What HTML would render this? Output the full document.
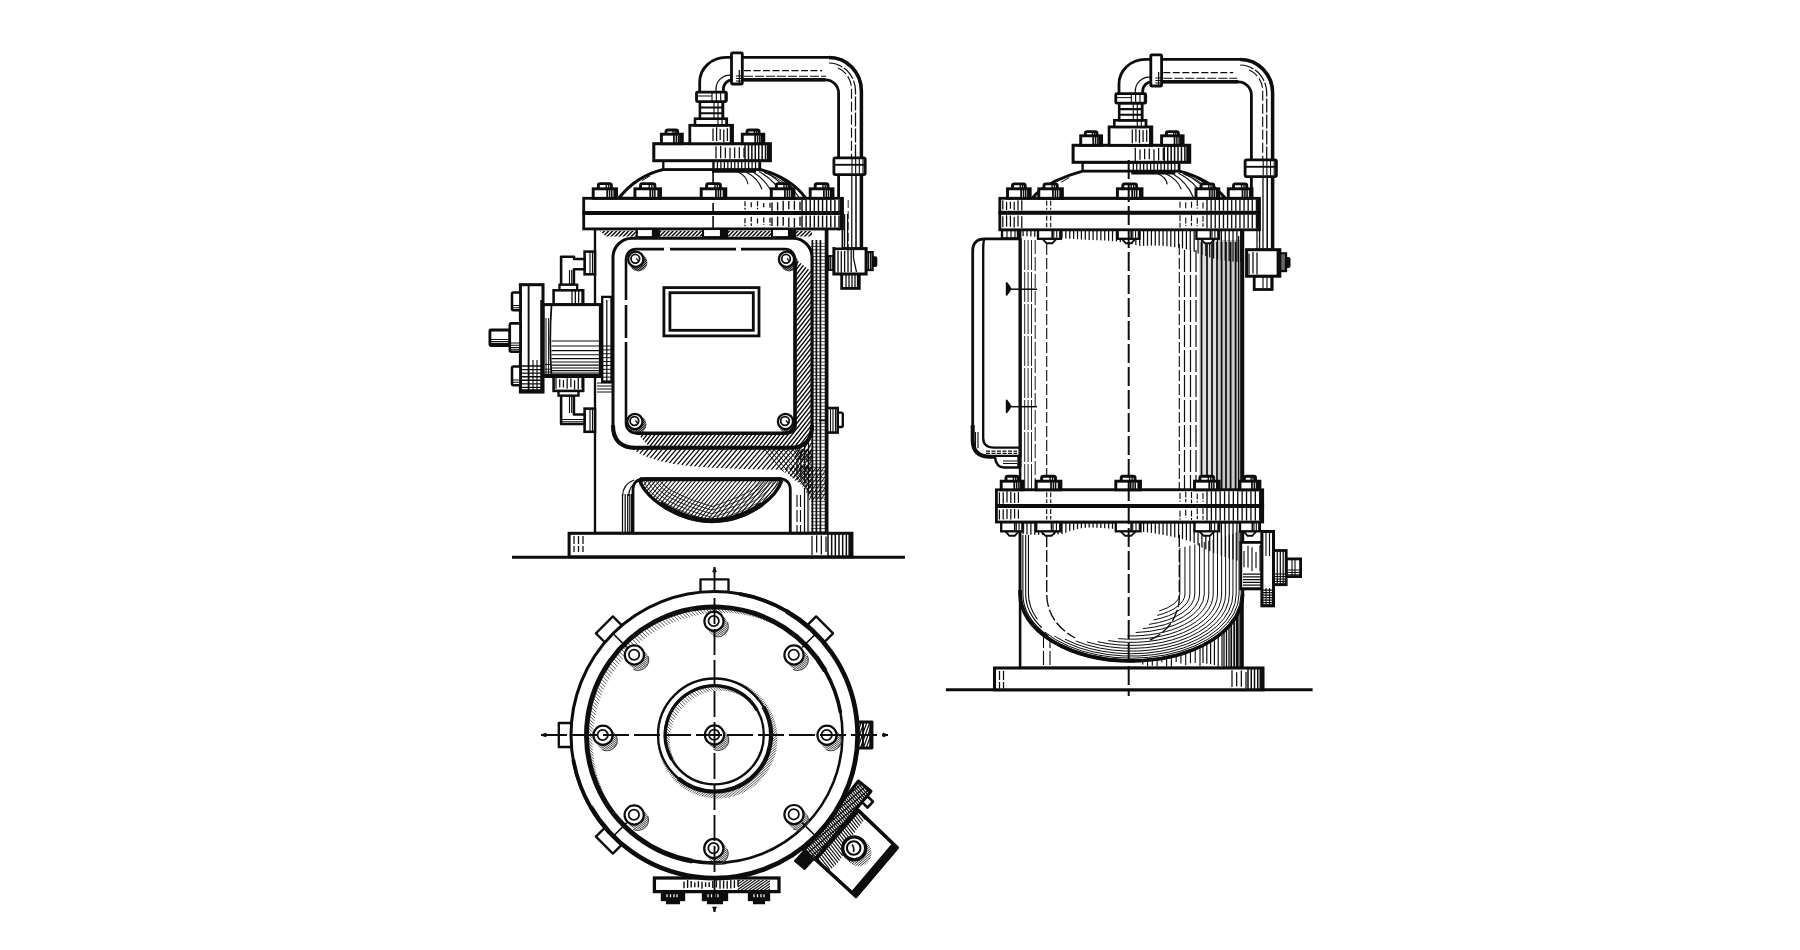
<!DOCTYPE html>
<html><head><meta charset="utf-8"><title>Filter housing elevations</title>
<style>html,body{margin:0;padding:0;background:#fff}svg{display:block}</style></head>
<body><svg width="1800" height="950" viewBox="0 0 1800 950">
<rect width="1800" height="950" fill="#fff"/>
<defs><clipPath id="c1"><path d="M795 240H825V533H809V500Q808 482 796 474Q790 470 786 468Q800 462 803 440Z"/></clipPath>
<clipPath id="c2"><path d="M811 243H825V533H811V500Q811 485 803 474Q811 460 811 440Z"/></clipPath>
<clipPath id="c3"><path d="M795 252H813V460H795Z"/></clipPath>
<clipPath id="c4"><path d="M632 449H812V470Q740 470 690 466Q650 462 632 449Z"/></clipPath>
<clipPath id="c5"><path d="M762 450H812V500Q806 484 792 477Q774 468 762 450Z"/></clipPath>
<clipPath id="c6"><path d="M790 466H812V500Q806 484 790 476Z"/></clipPath>
<clipPath id="c7"><path d="M800 466H825V500H809Q806 486 794 480Q790 474 780 470Z"/></clipPath>
<clipPath id="c8"><path d="M600 231H812V236.5H606Z"/></clipPath>
<clipPath id="c9"><path d="M618.8 198.3Q636 176 663.3 169.5H760Q790 177 806 198.3Z"/></clipPath>
<clipPath id="c10"><path d="M626 249.1H795V433.2H626Z"/></clipPath>
<clipPath id="c11"><path d="M636 432H794V258L812 272V428Q812 447.5 792 447.5H650Z"/></clipPath>
<clipPath id="c12"><path d="M638.4 262.5m-9 0a9 9 0 1 0 18 0a9 9 0 1 0 -18 0"/></clipPath>
<clipPath id="c13"><path d="M789.1 262.5m-9 0a9 9 0 1 0 18 0a9 9 0 1 0 -18 0"/></clipPath>
<clipPath id="c14"><path d="M637.5 424.7m-9 0a9 9 0 1 0 18 0a9 9 0 1 0 -18 0"/></clipPath>
<clipPath id="c15"><path d="M788.1 424.7m-9 0a9 9 0 1 0 18 0a9 9 0 1 0 -18 0"/></clipPath>
<clipPath id="c16"><path d="M639.6 480.5C647 500 680 521.5 712 521.5C745 521.5 775 500 781.8 480.5Z"/></clipPath>
<clipPath id="c17"><path d="M639.6 480.5Q650 498 676 510Q712 524 750 512Q772 503 781.8 480.5Q760 508 712 510Q665 508 639.6 480.5Z"/></clipPath>
<clipPath id="c18"><path d="M872 748L872 722L856 722L856 748Z"/></clipPath>
<clipPath id="c19"><path d="M858.4 781L871 791.2L814.6 859.4L803.7 850.1Z"/></clipPath>
<clipPath id="c20"><path d="M858.4 810.5L897.2 847.6L855.9 896.4L815.5 859.4Z"/></clipPath>
<clipPath id="c21"><path d="M858.4 810.5L866 818Q850 836 846 850Q838 866 828 871L815.5 859.4Z"/></clipPath>
<clipPath id="c22"><path d="M858.5 853m-13 0a13 13 0 1 0 26 0a13 13 0 1 0 -26 0"/></clipPath>
<clipPath id="c23"><path d="M690 878.5H778V891H690Z"/></clipPath>
<clipPath id="c24"><path d="M738 880H770V890H738Z"/></clipPath>
<clipPath id="c25"><path d="M714.5 735m-128 0a128 128 0 1 0 256 0a128 128 0 1 0 -256 0Z"/></clipPath>
<clipPath id="c26"><path d="M717.5 738.5m-60 0a60 60 0 1 0 120 0a60 60 0 1 0 -120 0"/></clipPath>
<clipPath id="c27"><path d="M714.5 735m-49 0a49 49 0 1 0 98 0a49 49 0 1 0 -98 0"/></clipPath>
<clipPath id="c28"><path d="M717.6 625.5m-10.5 0a10.5 10.5 0 1 0 21 0a10.5 10.5 0 1 0 -21 0"/></clipPath>
<clipPath id="c29"><path d="M638 659.2m-10.5 0a10.5 10.5 0 1 0 21 0a10.5 10.5 0 1 0 -21 0"/></clipPath>
<clipPath id="c30"><path d="M797.6 659.2m-10.5 0a10.5 10.5 0 1 0 21 0a10.5 10.5 0 1 0 -21 0"/></clipPath>
<clipPath id="c31"><path d="M606.6 739.5m-10.5 0a10.5 10.5 0 1 0 21 0a10.5 10.5 0 1 0 -21 0"/></clipPath>
<clipPath id="c32"><path d="M830.6 739.5m-10.5 0a10.5 10.5 0 1 0 21 0a10.5 10.5 0 1 0 -21 0"/></clipPath>
<clipPath id="c33"><path d="M637.8 819.2m-10.5 0a10.5 10.5 0 1 0 21 0a10.5 10.5 0 1 0 -21 0"/></clipPath>
<clipPath id="c34"><path d="M797.6 818.8m-10.5 0a10.5 10.5 0 1 0 21 0a10.5 10.5 0 1 0 -21 0"/></clipPath>
<clipPath id="c35"><path d="M717.4 852.6m-10.5 0a10.5 10.5 0 1 0 21 0a10.5 10.5 0 1 0 -21 0"/></clipPath>
<clipPath id="c36"><path d="M718.1 739.2m-10.5 0a10.5 10.5 0 1 0 21 0a10.5 10.5 0 1 0 -21 0"/></clipPath>
<clipPath id="c37"><path d="M1020.1 522V594A111.35 67 0 0 0 1242.8 594V522Z"/></clipPath>
<clipPath id="c38"><path d="M1020.1 523H1242.8V562Q1215 556 1190 541Q1160 533 1140 531.5Q1110 528 1090 527.5Q1075 528 1063 534Q1045 536 1020.1 534Z"/></clipPath>
<clipPath id="c39"><path d="M1020.1 230H1242.8V262Q1215 262 1190 250Q1165 244 1140 246Q1120 240 1090 240Q1060 238 1020.1 236Z"/></clipPath>
<clipPath id="c40"><path d="M1032.1 198.3Q1038.1 190.3 1055.3 181.1Q1069.3 174.6 1082.6 171.1H1179.3Q1209.3 178.6 1225.3 198.3Z"/></clipPath></defs>
<line x1="512" y1="557.2" x2="905" y2="557.2" stroke="#0d0d0d" stroke-width="3.04"/>
<path d="M699.7 93V82A26.3 24.6 0 0 1 726 57.4H829A32.4 33.6 0 0 1 861.4 91V250H838.6V93A13.2 13.2 0 0 0 825.4 79.8H732.6A9.2 9.2 0 0 0 723.4 89V93Z" fill="#fff" stroke="#0d0d0d" stroke-width="2.81" stroke-linejoin="round"/>
<path d="M829 57.4A32.4 33.6 0 0 1 861.4 91V250" fill="none" stroke="#0d0d0d" stroke-width="3.51" stroke-linejoin="round"/>
<path d="M742 79.8H825.4" fill="none" stroke="#0d0d0d" stroke-width="3.51" stroke-linejoin="round"/>
<path d="M716 92V89A14 14 0 0 1 730 75H732" fill="none" stroke="#0d0d0d" stroke-width="1.25" stroke-linejoin="round"/>
<path d="M744 70.5H822" fill="none" stroke="#0d0d0d" stroke-width="1.25" stroke-linejoin="round" stroke-dasharray="7 2.5"/>
<path d="M744 76.3H826" fill="none" stroke="#0d0d0d" stroke-width="1.12" stroke-linejoin="round" stroke-dasharray="9 2"/>
<path d="M829 63A27 28 0 0 1 855.5 91V158" fill="none" stroke="#0d0d0d" stroke-width="1.25" stroke-linejoin="round" stroke-dasharray="14 2"/>
<path d="M838 68A22 23 0 0 1 851.5 91V158" fill="none" stroke="#0d0d0d" stroke-width="1.12" stroke-linejoin="round" stroke-dasharray="10 3"/>
<path d="M851.8 176V248" fill="none" stroke="#0d0d0d" stroke-width="1.25" stroke-linejoin="round"/>
<path d="M856 176V248" fill="none" stroke="#0d0d0d" stroke-width="1.56" stroke-linejoin="round"/>
<path d="M848.2 200V248" fill="none" stroke="#0d0d0d" stroke-width="0.88" stroke-linejoin="round" stroke-dasharray="8 3"/>
<rect x="731.5" y="52.9" width="10.8" height="31.1" fill="#fff" stroke="#0d0d0d" stroke-width="2.81" rx="1"/>
<path d="M739.3 70V83" fill="none" stroke="#0d0d0d" stroke-width="1.25" stroke-linejoin="round"/>
<path d="M736 76H741.5M736 78.5H741.5M736 81H741.5" fill="none" stroke="#0d0d0d" stroke-width="1" stroke-linejoin="round"/>
<rect x="833.9" y="157.9" width="31.3" height="16.7" fill="#fff" stroke="#0d0d0d" stroke-width="2.81" rx="1.5"/>
<line x1="834" y1="164.8" x2="865" y2="164.8" stroke="#0d0d0d" stroke-width="1.87"/>
<path d="M852 159V173.5M855.67 159V173.5M859.33 159V173.5M863 159V173.5" fill="none" stroke="#0d0d0d" stroke-width="1.12" stroke-linejoin="round"/>
<rect x="841.7" y="273" width="17.6" height="15.4" fill="#fff" stroke="#0d0d0d" stroke-width="2.81"/>
<path d="M846 274V287.5M849 274V287.5M852 274V287.5M855 274V287.5M857.5 274V287.5" fill="none" stroke="#0d0d0d" stroke-width="1.25" stroke-linejoin="round"/>
<rect x="872.4" y="257.2" width="4" height="8.8" fill="#0d0d0d" stroke="#0d0d0d" stroke-width="1.87" rx="1"/>
<rect x="866.3" y="252.2" width="6.3" height="17.8" fill="#fff" stroke="#0d0d0d" stroke-width="2.34"/>
<path d="M868.6 253V269.5M870.6 253V269.5" fill="none" stroke="#0d0d0d" stroke-width="1.25" stroke-linejoin="round"/>
<rect x="828.6" y="256" width="5.4" height="14" fill="#fff" stroke="#0d0d0d" stroke-width="1.87"/>
<path d="M830.4 257V269M832.2 257V269" fill="none" stroke="#0d0d0d" stroke-width="1.12" stroke-linejoin="round"/>
<rect x="833.9" y="248.6" width="32.2" height="25.4" fill="#fff" stroke="#0d0d0d" stroke-width="3.04"/>
<path d="M838 250.65V272.7M841.3 251.3V272.86M844.6 251.07V272.27M848 250.12V271.99M851.2 250.07V272.13" fill="none" stroke="#0d0d0d" stroke-width="1.31" stroke-linejoin="round"/>
<path d="M853.5 250V258L856.5 272" fill="none" stroke="#0d0d0d" stroke-width="1.25" stroke-linejoin="round"/>
<rect x="595" y="229" width="231.6" height="304" fill="#fff" stroke="#0d0d0d" stroke-width="2.34"/>
<line x1="826.6" y1="229" x2="826.6" y2="533" stroke="#0d0d0d" stroke-width="3.74"/>
<path d="M812.4 240V533M816.4 240V533M820.4 240V533" fill="none" stroke="#0d0d0d" stroke-width="1.75" stroke-linejoin="round" clip-path="url(#c1)"/>
<path d="M797 440V533M800.8 440V533M804.6 440V533M808.5 440V533" fill="none" stroke="#0d0d0d" stroke-width="1.25" stroke-linejoin="round" clip-path="url(#c1)"/>
<path d="M800 243H825M800 246.4H825M800 249.8H825M800 253.2H825M800 256.6H825M800 260H825M800 263.4H825M800 266.8H825M800 270.2H825M800 273.6H825M800 277H825M800 280.4H825M800 283.8H825M800 287.2H825M800 290.6H825M800 294H825M800 297.4H825M800 300.8H825M800 304.2H825M800 307.6H825M800 311H825M800 314.4H825M800 317.8H825M800 321.2H825M800 324.6H825M800 328H825M800 331.4H825M800 334.8H825M800 338.2H825M800 341.6H825M800 345H825M800 348.4H825M800 351.8H825M800 355.2H825M800 358.6H825M800 362H825M800 365.4H825M800 368.8H825M800 372.2H825M800 375.6H825M800 379H825M800 382.4H825M800 385.8H825M800 389.2H825M800 392.6H825M800 396H825M800 399.4H825M800 402.8H825M800 406.2H825M800 409.6H825M800 413H825M800 416.4H825M800 419.8H825M800 423.2H825M800 426.6H825M800 430H825M800 433.4H825M800 436.8H825M800 440.2H825M800 443.6H825M800 447H825M800 450.4H825M800 453.8H825M800 457.2H825M800 460.6H825M800 464H825M800 467.4H825M800 470.8H825M800 474.2H825M800 477.6H825M800 481H825M800 484.4H825M800 487.8H825M800 491.2H825M800 494.6H825M800 498H825M800 501.4H825M800 504.8H825M800 508.2H825M800 511.6H825M800 515H825M800 518.4H825M800 521.8H825M800 525.2H825M800 528.6H825M800 532H825" fill="none" stroke="#0d0d0d" stroke-width="0.75" stroke-linejoin="round" clip-path="url(#c2)"/>
<path d="M666.98 470L794 250M671.14 470L798.16 250M675.3 470L802.32 250M679.46 470L806.48 250M683.62 470L810.64 250M687.78 470L814.8 250M691.94 470L818.96 250M696.1 470L823.12 250M700.26 470L827.28 250M704.42 470L831.44 250M708.58 470L835.6 250M712.74 470L839.76 250M716.9 470L843.92 250M721.06 470L848.08 250M725.22 470L852.24 250M729.38 470L856.4 250M733.54 470L860.56 250M737.7 470L864.72 250M741.86 470L868.88 250M746.02 470L873.04 250M750.18 470L877.2 250M754.34 470L881.36 250M758.5 470L885.52 250M762.66 470L889.68 250M766.82 470L893.84 250M770.98 470L898 250M775.14 470L902.16 250M779.3 470L906.32 250M783.46 470L910.48 250M787.62 470L914.64 250M791.78 470L918.8 250M795.94 470L922.96 250M800.1 470L927.12 250M804.26 470L931.28 250M808.42 470L935.44 250M812.58 470L939.6 250M816.74 470L943.76 250M820.9 470L947.92 250M825.06 470L952.08 250M829.22 470L956.24 250M833.38 470L960.4 250M837.54 470L964.56 250M841.7 470L968.72 250M845.86 470L972.88 250M850.02 470L977.04 250M854.18 470L981.2 250M858.34 470L985.36 250M862.5 470L989.52 250M866.66 470L993.68 250M870.82 470L997.84 250M874.98 470L1002 250M879.14 470L1006.16 250M883.3 470L1010.32 250M887.46 470L1014.48 250M891.62 470L1018.64 250M895.78 470L1022.8 250M899.94 470L1026.96 250M904.1 470L1031.12 250M908.26 470L1035.28 250M912.42 470L1039.44 250M916.58 470L1043.6 250M920.74 470L1047.76 250M924.9 470L1051.92 250M929.06 470L1056.08 250M933.22 470L1060.24 250M937.38 470L1064.4 250" fill="none" stroke="#0d0d0d" stroke-width="1.25" stroke-linejoin="round" clip-path="url(#c3)"/>
<path d="M607.38 470L625 449M612.06 470L629.68 449M616.74 470L634.36 449M621.42 470L639.04 449M626.1 470L643.72 449M630.78 470L648.4 449M635.46 470L653.08 449M640.14 470L657.76 449M644.82 470L662.44 449M649.5 470L667.12 449M654.18 470L671.8 449M658.86 470L676.48 449M663.54 470L681.16 449M668.22 470L685.84 449M672.9 470L690.52 449M677.58 470L695.2 449M682.26 470L699.88 449M686.94 470L704.56 449M691.62 470L709.24 449M696.3 470L713.92 449M700.98 470L718.6 449M705.66 470L723.28 449M710.34 470L727.96 449M715.02 470L732.64 449M719.7 470L737.32 449M724.38 470L742 449M729.06 470L746.68 449M733.74 470L751.36 449M738.42 470L756.04 449M743.1 470L760.72 449M747.78 470L765.4 449M752.46 470L770.08 449M757.14 470L774.76 449M761.82 470L779.44 449M766.5 470L784.12 449M771.18 470L788.8 449M775.86 470L793.48 449M780.54 470L798.16 449M785.22 470L802.84 449M789.9 470L807.52 449M794.58 470L812.2 449M799.26 470L816.88 449M803.94 470L821.56 449M808.62 470L826.24 449M813.3 470L830.92 449M817.98 470L835.6 449M822.66 470L840.28 449M827.34 470L844.96 449M832.02 470L849.64 449" fill="none" stroke="#0d0d0d" stroke-width="1.19" stroke-linejoin="round" clip-path="url(#c4)"/>
<path d="M710.53 502L666.06 449M715.21 502L670.74 449M719.89 502L675.42 449M724.57 502L680.1 449M729.25 502L684.78 449M733.93 502L689.46 449M738.61 502L694.14 449M743.29 502L698.82 449M747.97 502L703.5 449M752.65 502L708.18 449M757.33 502L712.86 449M762.01 502L717.54 449M766.69 502L722.22 449M771.37 502L726.9 449M776.05 502L731.58 449M780.73 502L736.26 449M785.41 502L740.94 449M790.09 502L745.62 449M794.77 502L750.3 449M799.45 502L754.98 449M804.13 502L759.66 449M808.81 502L764.34 449M813.49 502L769.02 449M818.17 502L773.7 449M822.85 502L778.38 449M827.53 502L783.06 449M832.21 502L787.74 449M836.89 502L792.42 449M841.57 502L797.1 449M846.25 502L801.78 449M850.93 502L806.46 449M855.61 502L811.14 449M860.29 502L815.82 449M864.97 502L820.5 449M869.65 502L825.18 449M874.33 502L829.86 449" fill="none" stroke="#0d0d0d" stroke-width="0.88" stroke-linejoin="round" clip-path="url(#c5)"/>
<path d="M740.53 502L785 449M745.21 502L789.68 449M749.89 502L794.36 449M754.57 502L799.04 449M759.25 502L803.72 449M763.93 502L808.4 449M768.61 502L813.08 449M773.29 502L817.76 449M777.97 502L822.44 449M782.65 502L827.12 449M787.33 502L831.8 449M792.01 502L836.48 449M796.69 502L841.16 449M801.37 502L845.84 449M806.05 502L850.52 449M810.73 502L855.2 449M815.41 502L859.88 449M820.09 502L864.56 449M824.77 502L869.24 449M829.45 502L873.92 449M834.13 502L878.6 449M838.81 502L883.28 449M843.49 502L887.96 449M848.17 502L892.64 449M852.85 502L897.32 449M857.53 502L902 449M862.21 502L906.68 449M866.89 502L911.36 449M871.57 502L916.04 449" fill="none" stroke="#0d0d0d" stroke-width="1.25" stroke-linejoin="round" clip-path="url(#c6)"/>
<path d="M754.19 500L778 466M758.09 500L781.9 466M761.99 500L785.8 466M765.89 500L789.7 466M769.79 500L793.6 466M773.69 500L797.5 466M777.59 500L801.4 466M781.49 500L805.3 466M785.39 500L809.2 466M789.29 500L813.1 466M793.19 500L817 466M797.09 500L820.9 466M800.99 500L824.8 466M804.89 500L828.7 466M808.79 500L832.6 466M812.69 500L836.5 466M816.59 500L840.4 466M820.49 500L844.3 466M824.39 500L848.2 466M828.29 500L852.1 466M832.19 500L856 466M836.09 500L859.9 466M839.99 500L863.8 466M843.89 500L867.7 466M847.79 500L871.6 466" fill="none" stroke="#0d0d0d" stroke-width="1" stroke-linejoin="round" clip-path="url(#c7)"/>
<path d="M590 237.5L598 229.5M594.03 237.5L602.03 229.5M598.06 237.5L606.06 229.5M602.09 237.5L610.09 229.5M606.12 237.5L614.12 229.5M610.15 237.5L618.15 229.5M614.18 237.5L622.18 229.5M618.21 237.5L626.21 229.5M622.24 237.5L630.24 229.5M626.27 237.5L634.27 229.5M630.3 237.5L638.3 229.5M634.33 237.5L642.33 229.5M638.36 237.5L646.36 229.5M642.39 237.5L650.39 229.5M646.42 237.5L654.42 229.5M650.45 237.5L658.45 229.5M654.48 237.5L662.48 229.5M658.51 237.5L666.51 229.5M662.54 237.5L670.54 229.5M666.57 237.5L674.57 229.5M670.6 237.5L678.6 229.5M674.63 237.5L682.63 229.5M678.66 237.5L686.66 229.5M682.69 237.5L690.69 229.5M686.72 237.5L694.72 229.5M690.75 237.5L698.75 229.5M694.78 237.5L702.78 229.5M698.81 237.5L706.81 229.5M702.84 237.5L710.84 229.5M706.87 237.5L714.87 229.5M710.9 237.5L718.9 229.5M714.93 237.5L722.93 229.5M718.96 237.5L726.96 229.5M722.99 237.5L730.99 229.5M727.02 237.5L735.02 229.5M731.05 237.5L739.05 229.5M735.08 237.5L743.08 229.5M739.11 237.5L747.11 229.5M743.14 237.5L751.14 229.5M747.17 237.5L755.17 229.5M751.2 237.5L759.2 229.5M755.23 237.5L763.23 229.5M759.26 237.5L767.26 229.5M763.29 237.5L771.29 229.5M767.32 237.5L775.32 229.5M771.35 237.5L779.35 229.5M775.38 237.5L783.38 229.5M779.41 237.5L787.41 229.5M783.44 237.5L791.44 229.5M787.47 237.5L795.47 229.5M791.5 237.5L799.5 229.5M795.53 237.5L803.53 229.5M799.56 237.5L807.56 229.5M803.59 237.5L811.59 229.5M807.62 237.5L815.62 229.5M811.65 237.5L819.65 229.5M815.68 237.5L823.68 229.5M819.71 237.5L827.71 229.5" fill="none" stroke="#0d0d0d" stroke-width="1.44" stroke-linejoin="round" clip-path="url(#c8)"/>
<rect x="583.7" y="198.3" width="258.7" height="14.7" fill="#fff" stroke="#0d0d0d" stroke-width="2.81"/>
<rect x="583.7" y="213" width="258.7" height="15.9" fill="#fff" stroke="#0d0d0d" stroke-width="2.81"/>
<line x1="583.7" y1="213" x2="842.4" y2="213" stroke="#0d0d0d" stroke-width="4.21"/>
<line x1="841.6" y1="198.3" x2="841.6" y2="228.9" stroke="#0d0d0d" stroke-width="3.74"/>
<path d="M745 201.21V209.73M751.25 202.27V207.52M757.5 201.37V209.33M763.75 202.88V207.16M770 202.73V208.81" fill="none" stroke="#0d0d0d" stroke-width="1.25" stroke-linejoin="round" stroke-dasharray="5 1.5"/>
<path d="M772 202.45V210.91M777.6 202.22V210.42M783.2 200.79V210.76M788.8 201.12V209.37M794.4 200.86V209.84M800 201.78V210.26" fill="none" stroke="#0d0d0d" stroke-width="1.38" stroke-linejoin="round"/>
<path d="M802 200V211M806.11 200V211M810.22 200V211M814.33 200V211M818.44 200V211M822.56 200V211M826.67 200V211M830.78 200V211M834.89 200V211M839 200V211" fill="none" stroke="#0d0d0d" stroke-width="1.44" stroke-linejoin="round"/>
<path d="M745 218.14V226.31M751.25 216.68V225.88M757.5 218.54V225.22M763.75 217.44V224.74M770 217.86V225.6" fill="none" stroke="#0d0d0d" stroke-width="1.25" stroke-linejoin="round" stroke-dasharray="5 1.5"/>
<path d="M772 217.59V226.1M777.6 216.49V226.35M783.2 217.05V225.75M788.8 217.46V226.92M794.4 217.96V227.26M800 216.84V225.99" fill="none" stroke="#0d0d0d" stroke-width="1.38" stroke-linejoin="round"/>
<path d="M802 215.5V227.5M806.11 215.5V227.5M810.22 215.5V227.5M814.33 215.5V227.5M818.44 215.5V227.5M822.56 215.5V227.5M826.67 215.5V227.5M830.78 215.5V227.5M834.89 215.5V227.5M839 215.5V227.5" fill="none" stroke="#0d0d0d" stroke-width="1.44" stroke-linejoin="round"/>
<rect x="835.5" y="230.5" width="6.2" height="17" fill="#fff"/>
<path d="M844.6 214V247.5M847.6 214V247.5" fill="none" stroke="#0d0d0d" stroke-width="1.25" stroke-linejoin="round"/>
<path d="M842.4 199V247.8" fill="none" stroke="#0d0d0d" stroke-width="1.75" stroke-linejoin="round"/>
<path d="M618.8 198.3Q636 176 663.3 169.5H760Q790 177 806 198.3Z" fill="#fff" stroke="#0d0d0d" stroke-width="3.04" stroke-linejoin="round"/>
<path d="M738 172Q747 176.31 748 184.3M746 172Q758 178.06 762 189.3M753 172Q767.5 180.86 774 197.3M759 171.5Q775.5 180.53 784 197.3M764 171.5Q782 180.53 792 197.3M768.5 171.5Q787.75 180.53 799 197.3M772.5 171.5Q792.75 180.53 805 197.3M776 171.5Q797.5 180.53 811 197.3" fill="none" stroke="#0d0d0d" stroke-width="1.12" stroke-linejoin="round" clip-path="url(#c9)"/>
<path d="M764 172.5Q778 177 790 188M767.3 172.5Q781.3 177 793.3 188M770.6 172.5Q784.6 177 796.6 188M773.9 172.5Q787.9 177 799.9 188M777.2 172.5Q791.2 177 803.2 188" fill="none" stroke="#0d0d0d" stroke-width="1" stroke-linejoin="round" clip-path="url(#c9)"/>
<path d="M650 176L642 180.5" fill="none" stroke="#0d0d0d" stroke-width="1" stroke-linejoin="round"/>
<rect x="663.3" y="160.7" width="96.7" height="8.6" fill="#fff" stroke="#0d0d0d" stroke-width="2.34"/>
<path d="M714 161.5V169M717.46 161.5V169M720.92 161.5V169M724.38 161.5V169M727.85 161.5V169M731.31 161.5V169M734.77 161.5V169M738.23 161.5V169M741.69 161.5V169M745.15 161.5V169M748.62 161.5V169M752.08 161.5V169M755.54 161.5V169M759 161.5V169" fill="none" stroke="#0d0d0d" stroke-width="1.25" stroke-linejoin="round"/>
<path d="M712 171.5H756" fill="none" stroke="#0d0d0d" stroke-width="2.57" stroke-linejoin="round"/>
<rect x="653.8" y="143.7" width="116.6" height="17" fill="#fff" stroke="#0d0d0d" stroke-width="3.04"/>
<path d="M716 146.3V158.52M720.67 146.08V158.16M725.33 147.53V158.35M730 147.75V158.87M734.67 147.39V158.31M739.33 147.16V158.59M744 147.68V157.61" fill="none" stroke="#0d0d0d" stroke-width="1.25" stroke-linejoin="round"/>
<path d="M745 145V160M748.43 145V160M751.86 145V160M755.29 145V160M758.71 145V160M762.14 145V160M765.57 145V160M769 145V160" fill="none" stroke="#0d0d0d" stroke-width="1.5" stroke-linejoin="round"/>
<line x1="768.8" y1="143.7" x2="768.8" y2="160.7" stroke="#0d0d0d" stroke-width="3.74"/>
<rect x="689.8" y="125.3" width="42.7" height="18.4" fill="#fff" stroke="#0d0d0d" stroke-width="2.81"/>
<path d="M713 128.42V141.01M716.6 127.18V140.9M720.2 128.94V140.02M723.8 129.47V142.15M727.4 128.16V140.99M731 127.07V141.61" fill="none" stroke="#0d0d0d" stroke-width="1.25" stroke-linejoin="round"/>
<line x1="731.5" y1="125.3" x2="731.5" y2="143.7" stroke="#0d0d0d" stroke-width="3.51"/>
<rect x="695" y="118.7" width="31.8" height="6.6" fill="#fff" stroke="#0d0d0d" stroke-width="2.57"/>
<path d="M718 119.5V125M722 119.5V125M726 119.5V125" fill="none" stroke="#0d0d0d" stroke-width="1.12" stroke-linejoin="round"/>
<rect x="699.9" y="101.6" width="23.1" height="17.1" fill="#fff" stroke="#0d0d0d" stroke-width="2.57"/>
<path d="M700 107.5H723M700 113.2H723" fill="none" stroke="#0d0d0d" stroke-width="2.11" stroke-linejoin="round"/>
<path d="M714 102V118M718 102V118M722 102V118" fill="none" stroke="#0d0d0d" stroke-width="1.12" stroke-linejoin="round"/>
<rect x="696.5" y="92.1" width="29.9" height="9.5" fill="#fff" stroke="#0d0d0d" stroke-width="2.81" rx="1"/>
<path d="M712 93V101M716.33 93V101M720.67 93V101M725 93V101" fill="none" stroke="#0d0d0d" stroke-width="1.12" stroke-linejoin="round"/>
<line x1="697" y1="96" x2="712" y2="96" stroke="#0d0d0d" stroke-width="1"/>
<rect x="666" y="130" width="11.7" height="5.2" fill="#fff" stroke="#0d0d0d" stroke-width="2.92" rx="1.8"/>
<rect x="661.4" y="134.2" width="20.9" height="9.5" fill="#fff" stroke="#0d0d0d" stroke-width="2.92"/>
<line x1="673.94" y1="134.2" x2="673.94" y2="143.7" stroke="#0d0d0d" stroke-width="1.75"/>
<path d="M676.34 135.2V143.2M678.54 135.2V143.2" fill="none" stroke="#0d0d0d" stroke-width="1.5" stroke-linejoin="round"/>
<line x1="680.7" y1="134.2" x2="680.7" y2="143.7" stroke="#0d0d0d" stroke-width="3.04"/>
<path d="M673.1 130.7V134.2M675.19 130.7V134.2" fill="none" stroke="#0d0d0d" stroke-width="1.38" stroke-linejoin="round"/>
<rect x="747.03" y="130" width="12.04" height="5.2" fill="#fff" stroke="#0d0d0d" stroke-width="2.92" rx="1.8"/>
<rect x="742.3" y="134.2" width="21.5" height="9.5" fill="#fff" stroke="#0d0d0d" stroke-width="2.92"/>
<line x1="755.2" y1="134.2" x2="755.2" y2="143.7" stroke="#0d0d0d" stroke-width="1.75"/>
<path d="M757.6 135.2V143.2M759.8 135.2V143.2" fill="none" stroke="#0d0d0d" stroke-width="1.5" stroke-linejoin="round"/>
<line x1="762.2" y1="134.2" x2="762.2" y2="143.7" stroke="#0d0d0d" stroke-width="3.04"/>
<path d="M754.34 130.7V134.2M756.49 130.7V134.2" fill="none" stroke="#0d0d0d" stroke-width="1.38" stroke-linejoin="round"/>
<line x1="713.1" y1="160" x2="713.1" y2="250" stroke="#0d0d0d" stroke-width="1.62" stroke-dasharray="40 3 10 3"/>
<rect x="598.33" y="183.6" width="13.05" height="6.2" fill="#fff" stroke="#0d0d0d" stroke-width="2.92" rx="1.8"/>
<rect x="593.2" y="188.8" width="23.3" height="9.5" fill="#fff" stroke="#0d0d0d" stroke-width="2.92"/>
<line x1="607.18" y1="188.8" x2="607.18" y2="198.3" stroke="#0d0d0d" stroke-width="1.75"/>
<path d="M609.58 189.8V197.8M611.78 189.8V197.8" fill="none" stroke="#0d0d0d" stroke-width="1.5" stroke-linejoin="round"/>
<line x1="614.9" y1="188.8" x2="614.9" y2="198.3" stroke="#0d0d0d" stroke-width="3.04"/>
<path d="M606.25 184.3V188.8M608.58 184.3V188.8" fill="none" stroke="#0d0d0d" stroke-width="1.38" stroke-linejoin="round"/>
<rect x="640.53" y="183.6" width="14.34" height="6.2" fill="#fff" stroke="#0d0d0d" stroke-width="2.92" rx="1.8"/>
<rect x="634.9" y="188.8" width="25.6" height="9.5" fill="#fff" stroke="#0d0d0d" stroke-width="2.92"/>
<line x1="650.26" y1="188.8" x2="650.26" y2="198.3" stroke="#0d0d0d" stroke-width="1.75"/>
<path d="M652.66 189.8V197.8M654.86 189.8V197.8" fill="none" stroke="#0d0d0d" stroke-width="1.5" stroke-linejoin="round"/>
<line x1="658.9" y1="188.8" x2="658.9" y2="198.3" stroke="#0d0d0d" stroke-width="3.04"/>
<path d="M649.24 184.3V188.8M651.8 184.3V188.8" fill="none" stroke="#0d0d0d" stroke-width="1.38" stroke-linejoin="round"/>
<rect x="706.61" y="183.6" width="13.78" height="6.2" fill="#fff" stroke="#0d0d0d" stroke-width="2.92" rx="1.8"/>
<rect x="701.2" y="188.8" width="24.6" height="9.5" fill="#fff" stroke="#0d0d0d" stroke-width="2.92"/>
<line x1="715.96" y1="188.8" x2="715.96" y2="198.3" stroke="#0d0d0d" stroke-width="1.75"/>
<path d="M718.36 189.8V197.8M720.56 189.8V197.8" fill="none" stroke="#0d0d0d" stroke-width="1.5" stroke-linejoin="round"/>
<line x1="724.2" y1="188.8" x2="724.2" y2="198.3" stroke="#0d0d0d" stroke-width="3.04"/>
<path d="M714.98 184.3V188.8M717.44 184.3V188.8" fill="none" stroke="#0d0d0d" stroke-width="1.38" stroke-linejoin="round"/>
<rect x="776.29" y="183.6" width="12.71" height="6.2" fill="#fff" stroke="#0d0d0d" stroke-width="2.92" rx="1.8"/>
<rect x="771.3" y="188.8" width="22.7" height="9.5" fill="#fff" stroke="#0d0d0d" stroke-width="2.92"/>
<line x1="784.92" y1="188.8" x2="784.92" y2="198.3" stroke="#0d0d0d" stroke-width="1.75"/>
<path d="M787.32 189.8V197.8M789.52 189.8V197.8" fill="none" stroke="#0d0d0d" stroke-width="1.5" stroke-linejoin="round"/>
<line x1="792.4" y1="188.8" x2="792.4" y2="198.3" stroke="#0d0d0d" stroke-width="3.04"/>
<path d="M784.01 184.3V188.8M786.28 184.3V188.8" fill="none" stroke="#0d0d0d" stroke-width="1.38" stroke-linejoin="round"/>
<rect x="815.22" y="183.6" width="12.77" height="6.2" fill="#fff" stroke="#0d0d0d" stroke-width="2.92" rx="1.8"/>
<rect x="810.2" y="188.8" width="22.8" height="9.5" fill="#fff" stroke="#0d0d0d" stroke-width="2.92"/>
<line x1="823.88" y1="188.8" x2="823.88" y2="198.3" stroke="#0d0d0d" stroke-width="1.75"/>
<path d="M826.28 189.8V197.8M828.48 189.8V197.8" fill="none" stroke="#0d0d0d" stroke-width="1.5" stroke-linejoin="round"/>
<line x1="831.4" y1="188.8" x2="831.4" y2="198.3" stroke="#0d0d0d" stroke-width="3.04"/>
<path d="M822.97 184.3V188.8M825.25 184.3V188.8" fill="none" stroke="#0d0d0d" stroke-width="1.38" stroke-linejoin="round"/>
<rect x="652.9" y="229.5" width="6.5" height="7.5" fill="#0d0d0d" stroke="#0d0d0d" stroke-width="1.25"/>
<rect x="636.8" y="229" width="16.1" height="8.2" fill="#fff" stroke="#0d0d0d" stroke-width="2.11"/>
<rect x="721" y="229.5" width="6.5" height="7.5" fill="#0d0d0d" stroke="#0d0d0d" stroke-width="1.25"/>
<rect x="703" y="229" width="18" height="8.2" fill="#fff" stroke="#0d0d0d" stroke-width="2.11"/>
<rect x="789" y="229.5" width="6.5" height="7.5" fill="#0d0d0d" stroke="#0d0d0d" stroke-width="1.25"/>
<rect x="772" y="229" width="17" height="8.2" fill="#fff" stroke="#0d0d0d" stroke-width="2.11"/>
<rect x="613" y="238.3" width="199" height="209.5" fill="#fff" stroke="#0d0d0d" stroke-width="3.04" rx="19"/>
<path d="M613 425Q613 447.8 636 447.8H790Q812 447.8 812 425" fill="none" stroke="#0d0d0d" stroke-width="3.98" stroke-linejoin="round"/>
<path d="M470.52 449L626 250M474.55 449L630.03 250M478.58 449L634.06 250M482.61 449L638.09 250M486.64 449L642.12 250M490.67 449L646.15 250M494.7 449L650.18 250M498.73 449L654.21 250M502.76 449L658.24 250M506.79 449L662.27 250M510.82 449L666.3 250M514.85 449L670.33 250M518.88 449L674.36 250M522.91 449L678.39 250M526.94 449L682.42 250M530.97 449L686.45 250M535 449L690.48 250M539.03 449L694.51 250M543.06 449L698.54 250M547.09 449L702.57 250M551.12 449L706.6 250M555.15 449L710.63 250M559.18 449L714.66 250M563.21 449L718.69 250M567.24 449L722.72 250M571.27 449L726.75 250M575.3 449L730.78 250M579.33 449L734.81 250M583.36 449L738.84 250M587.39 449L742.87 250M591.42 449L746.9 250M595.45 449L750.93 250M599.48 449L754.96 250M603.51 449L758.99 250M607.54 449L763.02 250M611.57 449L767.05 250M615.6 449L771.08 250M619.63 449L775.11 250M623.66 449L779.14 250M627.69 449L783.17 250M631.72 449L787.2 250M635.75 449L791.23 250M639.78 449L795.26 250M643.81 449L799.29 250M647.84 449L803.32 250M651.87 449L807.35 250M655.9 449L811.38 250M659.93 449L815.41 250M663.96 449L819.44 250M667.99 449L823.47 250M672.02 449L827.5 250M676.05 449L831.53 250M680.08 449L835.56 250M684.11 449L839.59 250M688.14 449L843.62 250M692.17 449L847.65 250M696.2 449L851.68 250M700.23 449L855.71 250M704.26 449L859.74 250M708.29 449L863.77 250M712.32 449L867.8 250M716.35 449L871.83 250M720.38 449L875.86 250M724.41 449L879.89 250M728.44 449L883.92 250M732.47 449L887.95 250M736.5 449L891.98 250M740.53 449L896.01 250M744.56 449L900.04 250M748.59 449L904.07 250M752.62 449L908.1 250M756.65 449L912.13 250M760.68 449L916.16 250M764.71 449L920.19 250M768.74 449L924.22 250M772.77 449L928.25 250M776.8 449L932.28 250M780.83 449L936.31 250M784.86 449L940.34 250M788.89 449L944.37 250M792.92 449L948.4 250M796.95 449L952.43 250M800.98 449L956.46 250M805.01 449L960.49 250M809.04 449L964.52 250M813.07 449L968.55 250M817.1 449L972.58 250M821.13 449L976.61 250M825.16 449L980.64 250M829.19 449L984.67 250M833.22 449L988.7 250M837.25 449L992.73 250M841.28 449L996.76 250M845.31 449L1000.79 250M849.34 449L1004.82 250M853.37 449L1008.85 250M857.4 449L1012.88 250M861.43 449L1016.91 250M865.46 449L1020.94 250M869.49 449L1024.97 250M873.52 449L1029 250M877.55 449L1033.03 250M881.58 449L1037.06 250M885.61 449L1041.09 250M889.64 449L1045.12 250M893.67 449L1049.15 250M897.7 449L1053.18 250M901.73 449L1057.21 250M905.76 449L1061.24 250M909.79 449L1065.27 250M913.82 449L1069.3 250M917.85 449L1073.33 250M921.88 449L1077.36 250M925.91 449L1081.39 250M929.94 449L1085.42 250M933.97 449L1089.45 250M938 449L1093.48 250M942.03 449L1097.51 250M946.06 449L1101.54 250M950.09 449L1105.57 250M954.12 449L1109.6 250M958.15 449L1113.63 250M962.18 449L1117.66 250M966.21 449L1121.69 250" fill="none" stroke="#0d0d0d" stroke-width="1.38" stroke-linejoin="round" clip-path="url(#c11)"/>
<rect x="626" y="249.1" width="169" height="184.1" fill="#fff" stroke="#0d0d0d" stroke-width="2.57" rx="10"/>
<path d="M636 433.2H785Q795 433.2 795 423V262" fill="none" stroke="#0d0d0d" stroke-width="3.51" stroke-linejoin="round"/>
<line x1="664" y1="249.1" x2="670" y2="249.1" stroke="#fff" stroke-width="3.74"/>
<line x1="736" y1="249.1" x2="741" y2="249.1" stroke="#fff" stroke-width="3.74"/>
<line x1="626" y1="300" x2="626" y2="305" stroke="#fff" stroke-width="3.74"/>
<line x1="626" y1="338" x2="626" y2="342" stroke="#fff" stroke-width="3.74"/>
<rect x="663.9" y="287.6" width="95.1" height="48.3" fill="#fff" stroke="#0d0d0d" stroke-width="2.81"/>
<rect x="669.9" y="292.7" width="83.4" height="37.6" fill="#fff" stroke="#0d0d0d" stroke-width="2.81"/>
<path d="M603.96 272.3L627.8 252.3M606.56 272.3L630.4 252.3M609.16 272.3L633 252.3M611.76 272.3L635.6 252.3M614.36 272.3L638.2 252.3M616.96 272.3L640.8 252.3M619.56 272.3L643.4 252.3M622.16 272.3L646 252.3M624.76 272.3L648.6 252.3M627.36 272.3L651.2 252.3M629.96 272.3L653.8 252.3M632.56 272.3L656.4 252.3M635.16 272.3L659 252.3M637.76 272.3L661.6 252.3M640.36 272.3L664.2 252.3M642.96 272.3L666.8 252.3M645.56 272.3L669.4 252.3M648.16 272.3L672 252.3M650.76 272.3L674.6 252.3M653.36 272.3L677.2 252.3M655.96 272.3L679.8 252.3M658.56 272.3L682.4 252.3M661.16 272.3L685 252.3M663.76 272.3L687.6 252.3M666.36 272.3L690.2 252.3M668.96 272.3L692.8 252.3M671.56 272.3L695.4 252.3" fill="none" stroke="#0d0d0d" stroke-width="1.12" stroke-linejoin="round" clip-path="url(#c12)"/>
<circle cx="635.8" cy="259.3" r="7.6" fill="#fff" stroke="#0d0d0d" stroke-width="2.34"/>
<circle cx="635.3" cy="258.8" r="4.3" fill="#fff" stroke="#0d0d0d" stroke-width="1.75"/>
<path d="M636.3 258.3l2.5 3" fill="none" stroke="#0d0d0d" stroke-width="1.25" stroke-linejoin="round"/>
<path d="M754.66 272.3L778.5 252.3M757.26 272.3L781.1 252.3M759.86 272.3L783.7 252.3M762.46 272.3L786.3 252.3M765.06 272.3L788.9 252.3M767.66 272.3L791.5 252.3M770.26 272.3L794.1 252.3M772.86 272.3L796.7 252.3M775.46 272.3L799.3 252.3M778.06 272.3L801.9 252.3M780.66 272.3L804.5 252.3M783.26 272.3L807.1 252.3M785.86 272.3L809.7 252.3M788.46 272.3L812.3 252.3M791.06 272.3L814.9 252.3M793.66 272.3L817.5 252.3M796.26 272.3L820.1 252.3M798.86 272.3L822.7 252.3M801.46 272.3L825.3 252.3M804.06 272.3L827.9 252.3M806.66 272.3L830.5 252.3M809.26 272.3L833.1 252.3M811.86 272.3L835.7 252.3M814.46 272.3L838.3 252.3M817.06 272.3L840.9 252.3M819.66 272.3L843.5 252.3M822.26 272.3L846.1 252.3" fill="none" stroke="#0d0d0d" stroke-width="1.12" stroke-linejoin="round" clip-path="url(#c13)"/>
<circle cx="786.5" cy="259.3" r="7.6" fill="#fff" stroke="#0d0d0d" stroke-width="2.34"/>
<circle cx="786" cy="258.8" r="4.3" fill="#fff" stroke="#0d0d0d" stroke-width="1.75"/>
<path d="M787 258.3l2.5 3" fill="none" stroke="#0d0d0d" stroke-width="1.25" stroke-linejoin="round"/>
<path d="M603.06 434.5L626.9 414.5M605.66 434.5L629.5 414.5M608.26 434.5L632.1 414.5M610.86 434.5L634.7 414.5M613.46 434.5L637.3 414.5M616.06 434.5L639.9 414.5M618.66 434.5L642.5 414.5M621.26 434.5L645.1 414.5M623.86 434.5L647.7 414.5M626.46 434.5L650.3 414.5M629.06 434.5L652.9 414.5M631.66 434.5L655.5 414.5M634.26 434.5L658.1 414.5M636.86 434.5L660.7 414.5M639.46 434.5L663.3 414.5M642.06 434.5L665.9 414.5M644.66 434.5L668.5 414.5M647.26 434.5L671.1 414.5M649.86 434.5L673.7 414.5M652.46 434.5L676.3 414.5M655.06 434.5L678.9 414.5M657.66 434.5L681.5 414.5M660.26 434.5L684.1 414.5M662.86 434.5L686.7 414.5M665.46 434.5L689.3 414.5M668.06 434.5L691.9 414.5M670.66 434.5L694.5 414.5" fill="none" stroke="#0d0d0d" stroke-width="1.12" stroke-linejoin="round" clip-path="url(#c14)"/>
<circle cx="634.9" cy="421.5" r="7.6" fill="#fff" stroke="#0d0d0d" stroke-width="2.34"/>
<circle cx="634.4" cy="421" r="4.3" fill="#fff" stroke="#0d0d0d" stroke-width="1.75"/>
<path d="M635.4 420.5l2.5 3" fill="none" stroke="#0d0d0d" stroke-width="1.25" stroke-linejoin="round"/>
<path d="M753.66 434.5L777.5 414.5M756.26 434.5L780.1 414.5M758.86 434.5L782.7 414.5M761.46 434.5L785.3 414.5M764.06 434.5L787.9 414.5M766.66 434.5L790.5 414.5M769.26 434.5L793.1 414.5M771.86 434.5L795.7 414.5M774.46 434.5L798.3 414.5M777.06 434.5L800.9 414.5M779.66 434.5L803.5 414.5M782.26 434.5L806.1 414.5M784.86 434.5L808.7 414.5M787.46 434.5L811.3 414.5M790.06 434.5L813.9 414.5M792.66 434.5L816.5 414.5M795.26 434.5L819.1 414.5M797.86 434.5L821.7 414.5M800.46 434.5L824.3 414.5M803.06 434.5L826.9 414.5M805.66 434.5L829.5 414.5M808.26 434.5L832.1 414.5M810.86 434.5L834.7 414.5M813.46 434.5L837.3 414.5M816.06 434.5L839.9 414.5M818.66 434.5L842.5 414.5M821.26 434.5L845.1 414.5" fill="none" stroke="#0d0d0d" stroke-width="1.12" stroke-linejoin="round" clip-path="url(#c15)"/>
<circle cx="785.5" cy="421.5" r="7.6" fill="#fff" stroke="#0d0d0d" stroke-width="2.34"/>
<circle cx="785" cy="421" r="4.3" fill="#fff" stroke="#0d0d0d" stroke-width="1.75"/>
<path d="M786 420.5l2.5 3" fill="none" stroke="#0d0d0d" stroke-width="1.25" stroke-linejoin="round"/>
<path d="M633 533V490Q633 478.7 646 478.7H778Q790.3 478.7 790.3 490V533" fill="#fff" stroke="#0d0d0d" stroke-width="2.81" stroke-linejoin="round"/>
<path d="M640 479H782" fill="none" stroke="#0d0d0d" stroke-width="3.74" stroke-linejoin="round"/>
<path d="M622.5 494V532M625.2 494V532M627.7 494V532M629.8 494V532M631.6 494V532" fill="none" stroke="#0d0d0d" stroke-width="1.25" stroke-linejoin="round"/>
<path d="M622.5 496Q623 484 634 480" fill="none" stroke="#0d0d0d" stroke-width="1.25" stroke-linejoin="round"/>
<path d="M628.5 496Q629 486 638 481" fill="none" stroke="#0d0d0d" stroke-width="1.25" stroke-linejoin="round"/>
<path d="M797 495V532M800.5 495V532" fill="none" stroke="#0d0d0d" stroke-width="1.12" stroke-linejoin="round" stroke-dasharray="12 3"/>
<path d="M804.5 488V532M808 488V532" fill="none" stroke="#0d0d0d" stroke-width="1.25" stroke-linejoin="round"/>
<path d="M639.6 480.5C647 500 680 521.5 712 521.5C745 521.5 775 500 781.8 480.5Z" fill="#fff" stroke="#0d0d0d" stroke-width="1.5" stroke-linejoin="round"/>
<path d="M603.08 524L640 480M607.11 524L644.03 480M611.14 524L648.06 480M615.17 524L652.09 480M619.2 524L656.12 480M623.23 524L660.15 480M627.26 524L664.18 480M631.29 524L668.21 480M635.32 524L672.24 480M639.35 524L676.27 480M643.38 524L680.3 480M647.41 524L684.33 480M651.44 524L688.36 480M655.47 524L692.39 480M659.5 524L696.42 480M663.53 524L700.45 480M667.56 524L704.48 480M671.59 524L708.51 480M675.62 524L712.54 480M679.65 524L716.57 480M683.68 524L720.6 480M687.71 524L724.63 480M691.74 524L728.66 480M695.77 524L732.69 480M699.8 524L736.72 480M703.83 524L740.75 480M707.86 524L744.78 480M711.89 524L748.81 480M715.92 524L752.84 480M719.95 524L756.87 480M723.98 524L760.9 480M728.01 524L764.93 480M732.04 524L768.96 480M736.07 524L772.99 480M740.1 524L777.02 480M744.13 524L781.05 480M748.16 524L785.08 480M752.19 524L789.11 480M756.22 524L793.14 480M760.25 524L797.17 480M764.28 524L801.2 480M768.31 524L805.23 480M772.34 524L809.26 480M776.37 524L813.29 480M780.4 524L817.32 480M784.43 524L821.35 480M788.46 524L825.38 480M792.49 524L829.41 480M796.52 524L833.44 480M800.55 524L837.47 480M804.58 524L841.5 480M808.61 524L845.53 480M812.64 524L849.56 480M816.67 524L853.59 480M820.7 524L857.62 480" fill="none" stroke="#0d0d0d" stroke-width="1.06" stroke-linejoin="round" clip-path="url(#c16)"/>
<path d="M644 481Q652 505 712 521Q770 505 778 481" fill="none" stroke="#0d0d0d" stroke-width="0.75" stroke-linejoin="round" clip-path="url(#c16)"/>
<path d="M648 481Q656 502 712 517.4Q766 502 774 481" fill="none" stroke="#0d0d0d" stroke-width="0.75" stroke-linejoin="round" clip-path="url(#c16)"/>
<path d="M652 481Q660 499 712 513.8Q762 499 770 481" fill="none" stroke="#0d0d0d" stroke-width="0.75" stroke-linejoin="round" clip-path="url(#c16)"/>
<path d="M656 481Q664 496 712 510.2Q758 496 766 481" fill="none" stroke="#0d0d0d" stroke-width="0.75" stroke-linejoin="round" clip-path="url(#c16)"/>
<path d="M660 481Q668 493 712 506.6Q754 493 762 481" fill="none" stroke="#0d0d0d" stroke-width="0.75" stroke-linejoin="round" clip-path="url(#c16)"/>
<path d="M639.6 480.5C647 500 680 521.5 712 521.5C745 521.5 775 500 781.8 480.5" fill="none" stroke="#0d0d0d" stroke-width="3.51" stroke-linejoin="round"/>
<path d="M660 503C680 517 700 520.6 712 520.6C728 520.6 745 516 762 504" fill="none" stroke="#0d0d0d" stroke-width="4.91" stroke-linejoin="round"/>
<rect x="569.1" y="533.3" width="282.8" height="23.5" fill="#fff" stroke="#0d0d0d" stroke-width="3.04"/>
<path d="M574 536V555M578.5 536V555M583 536V555" fill="none" stroke="#0d0d0d" stroke-width="1.25" stroke-linejoin="round" stroke-dasharray="8 2 6 3"/>
<path d="M812 535.67V555.03M816.67 535.24V552.43M821.33 535.52V554.51M826 536.56V552.01" fill="none" stroke="#0d0d0d" stroke-width="1.25" stroke-linejoin="round"/>
<path d="M828 533.5V556M831.67 533.5V556M835.33 533.5V556M839 533.5V556M842.67 533.5V556M846.33 533.5V556M850 533.5V556" fill="none" stroke="#0d0d0d" stroke-width="1.5" stroke-linejoin="round"/>
<line x1="850.5" y1="532.5" x2="850.5" y2="556.8" stroke="#0d0d0d" stroke-width="4.21"/>
<rect x="837.7" y="412.7" width="5.1" height="14.3" fill="#fff" stroke="#0d0d0d" stroke-width="2.34" rx="1.5"/>
<rect x="827.2" y="408" width="10.5" height="24.6" fill="#fff" stroke="#0d0d0d" stroke-width="2.57"/>
<path d="M830.5 409V432M833 409V432M835.5 409V432" fill="none" stroke="#0d0d0d" stroke-width="1.12" stroke-linejoin="round"/>
<line x1="819" y1="420.5" x2="826" y2="420.5" stroke="#0d0d0d" stroke-width="1.5"/>
<rect x="584.6" y="251.6" width="10.4" height="22.7" fill="#fff" stroke="#0d0d0d" stroke-width="2.57"/>
<path d="M590 252.5V273.5M592.5 252.5V273.5" fill="none" stroke="#0d0d0d" stroke-width="1.12" stroke-linejoin="round"/>
<path d="M584.6 259H574V256.8H561.1V285H573.9V269.3H584.6Z" fill="#fff" stroke="#0d0d0d" stroke-width="2.57" stroke-linejoin="round"/>
<path d="M569.5 270V284M571.7 270V284" fill="none" stroke="#0d0d0d" stroke-width="1.12" stroke-linejoin="round"/>
<rect x="559.5" y="284.7" width="17.7" height="5.8" fill="#fff" stroke="#0d0d0d" stroke-width="2.34"/>
<rect x="553.6" y="290.3" width="29.6" height="14.3" fill="#fff" stroke="#0d0d0d" stroke-width="2.57"/>
<path d="M572 291V304M575.33 291V304M578.67 291V304M582 291V304" fill="none" stroke="#0d0d0d" stroke-width="1.25" stroke-linejoin="round"/>
<rect x="584.6" y="408.6" width="10.4" height="23.2" fill="#fff" stroke="#0d0d0d" stroke-width="2.57"/>
<path d="M590 409.5V431M592.5 409.5V431" fill="none" stroke="#0d0d0d" stroke-width="1.12" stroke-linejoin="round"/>
<path d="M584.6 414.5H573.9V395.3H561.1V424H584.6Z" fill="#fff" stroke="#0d0d0d" stroke-width="2.57" stroke-linejoin="round"/>
<path d="M569.5 396V413M571.7 396V413" fill="none" stroke="#0d0d0d" stroke-width="1.12" stroke-linejoin="round"/>
<path d="M562 419.5H584M562 421.7H584" fill="none" stroke="#0d0d0d" stroke-width="1.12" stroke-linejoin="round"/>
<rect x="558.5" y="390.3" width="20" height="5.3" fill="#fff" stroke="#0d0d0d" stroke-width="2.34"/>
<rect x="553.6" y="376.5" width="29.6" height="14.4" fill="#fff" stroke="#0d0d0d" stroke-width="2.57"/>
<path d="M556 377.74V388.65M559.71 379.15V387.35M563.43 379.96V387.41M567.14 378.34V388.75M570.86 378.58V387.35M574.57 380.37V389.55M578.29 378.03V389.3M582 378.2V388.55" fill="none" stroke="#0d0d0d" stroke-width="1.25" stroke-linejoin="round"/>
<rect x="602.2" y="296.9" width="9.3" height="85.1" fill="#fff" stroke="#0d0d0d" stroke-width="2.34"/>
<line x1="606.8" y1="300" x2="606.8" y2="382" stroke="#0d0d0d" stroke-width="1.25"/>
<path d="M603 346H611M603 349.89H611M603 353.78H611M603 357.67H611M603 361.56H611M603 365.44H611M603 369.33H611M603 373.22H611M603 377.11H611M603 381H611" fill="none" stroke="#0d0d0d" stroke-width="1" stroke-linejoin="round"/>
<path d="M597 383H612M597 386H612M597 389H612M597 392H612" fill="none" stroke="#0d0d0d" stroke-width="1" stroke-linejoin="round"/>
<rect x="543" y="304.6" width="57.4" height="71.9" fill="#fff" stroke="#0d0d0d" stroke-width="3.04"/>
<path d="M551.5 305Q549 340 551.5 376" fill="none" stroke="#0d0d0d" stroke-width="1.75" stroke-linejoin="round"/>
<path d="M546 318V375M548.6 318V375" fill="none" stroke="#0d0d0d" stroke-width="1" stroke-linejoin="round"/>
<path d="M551.5 341H600M551.5 346H600M551.5 350.6H600M551.5 354.8H600M551.5 358.6H600M551.5 362H600M551.5 365.1H600M551.5 368H600M551.5 370.6H600M551.5 373H600" fill="none" stroke="#0d0d0d" stroke-width="1.06" stroke-linejoin="round"/>
<path d="M545 364.5H551M545 369.3H551M545 372H551" fill="none" stroke="#0d0d0d" stroke-width="1.12" stroke-linejoin="round"/>
<line x1="543" y1="375.8" x2="600.4" y2="375.8" stroke="#0d0d0d" stroke-width="3.98"/>
<rect x="520.4" y="284.7" width="22.6" height="107.3" fill="#fff" stroke="#0d0d0d" stroke-width="3.04"/>
<line x1="528.6" y1="285" x2="528.6" y2="392" stroke="#0d0d0d" stroke-width="1.87"/>
<path d="M521.5 366H542M521.5 369.57H542M521.5 373.14H542M521.5 376.71H542M521.5 380.29H542M521.5 383.86H542M521.5 387.43H542M521.5 391H542" fill="none" stroke="#0d0d0d" stroke-width="1.38" stroke-linejoin="round"/>
<path d="M533 360V391M537 360V391" fill="none" stroke="#0d0d0d" stroke-width="1.12" stroke-linejoin="round"/>
<line x1="542" y1="300" x2="542" y2="392" stroke="#0d0d0d" stroke-width="3.51"/>
<line x1="520.4" y1="391.2" x2="543" y2="391.2" stroke="#0d0d0d" stroke-width="3.98"/>
<rect x="512" y="292.5" width="8.4" height="17.7" fill="#fff" stroke="#0d0d0d" stroke-width="2.57" rx="1.5"/>
<path d="M513 305.5H520M513 307.7H520" fill="none" stroke="#0d0d0d" stroke-width="1.12" stroke-linejoin="round"/>
<rect x="512" y="366.5" width="8.4" height="18.8" fill="#fff" stroke="#0d0d0d" stroke-width="2.57" rx="1.5"/>
<path d="M513 380H520M513 382.3H520" fill="none" stroke="#0d0d0d" stroke-width="1.12" stroke-linejoin="round"/>
<rect x="489.9" y="330" width="19.9" height="15.5" fill="#fff" stroke="#0d0d0d" stroke-width="2.81" rx="1"/>
<path d="M491 339.5H509M491 341.5H509M491 343.4H509" fill="none" stroke="#0d0d0d" stroke-width="1.12" stroke-linejoin="round"/>
<rect x="509.8" y="323.4" width="10.6" height="28.3" fill="#fff" stroke="#0d0d0d" stroke-width="2.57" rx="1.5"/>
<path d="M510.5 343H520M510.5 345.3H520M510.5 347.6H520M510.5 349.7H520" fill="none" stroke="#0d0d0d" stroke-width="1.12" stroke-linejoin="round"/>
<path d="M728.5 579.3L700.5 579.3L700.5 593.3L728.5 593.3Z" fill="#fff" stroke="#0d0d0d" stroke-width="2.34" stroke-linejoin="round"/>
<path d="M558.8 723L558.8 747L572.8 747L572.8 723Z" fill="#fff" stroke="#0d0d0d" stroke-width="2.34" stroke-linejoin="round"/>
<path d="M612.89 616.42L595.92 633.39L605.82 643.29L622.79 626.32Z" fill="#fff" stroke="#0d0d0d" stroke-width="2.34" stroke-linejoin="round"/>
<path d="M833.08 633.39L816.11 616.42L806.21 626.32L823.18 643.29Z" fill="#fff" stroke="#0d0d0d" stroke-width="2.34" stroke-linejoin="round"/>
<path d="M595.92 836.61L612.89 853.58L622.79 843.68L605.82 826.71Z" fill="#fff" stroke="#0d0d0d" stroke-width="2.34" stroke-linejoin="round"/>
<path d="M872 748L872 722L856 722L856 748Z" fill="#fff" stroke="#0d0d0d" stroke-width="2.81" stroke-linejoin="round"/>
<path d="M845.81 749L856 721M848.67 749L858.86 721M851.53 749L861.72 721M854.39 749L864.58 721M857.25 749L867.44 721M860.11 749L870.3 721M862.97 749L873.16 721M865.83 749L876.02 721M868.69 749L878.88 721M871.55 749L881.74 721M874.41 749L884.6 721M877.27 749L887.46 721M880.13 749L890.32 721M882.99 749L893.18 721" fill="none" stroke="#0d0d0d" stroke-width="1.25" stroke-linejoin="round" clip-path="url(#c18)"/>
<line x1="863" y1="722" x2="863" y2="748" stroke="#0d0d0d" stroke-width="1.87"/>
<line x1="871.2" y1="722" x2="871.2" y2="748" stroke="#0d0d0d" stroke-width="3.74"/>
<path d="M858.4 781L871 791.2L814.6 859.4L803.7 850.1Z" fill="#fff" stroke="#0d0d0d" stroke-width="3.04" stroke-linejoin="round"/>
<path d="M711.12 872L632.25 778M714.11 872L635.24 778M717.1 872L638.23 778M720.09 872L641.22 778M723.08 872L644.21 778M726.07 872L647.2 778M729.06 872L650.19 778M732.05 872L653.18 778M735.04 872L656.17 778M738.03 872L659.16 778M741.02 872L662.15 778M744.01 872L665.14 778M747 872L668.13 778M749.99 872L671.12 778M752.98 872L674.11 778M755.97 872L677.1 778M758.96 872L680.09 778M761.95 872L683.08 778M764.94 872L686.07 778M767.93 872L689.06 778M770.92 872L692.05 778M773.91 872L695.04 778M776.9 872L698.03 778M779.89 872L701.02 778M782.88 872L704.01 778M785.87 872L707 778M788.86 872L709.99 778M791.85 872L712.98 778M794.84 872L715.97 778M797.83 872L718.96 778M800.82 872L721.95 778M803.81 872L724.94 778M806.8 872L727.93 778M809.79 872L730.92 778M812.78 872L733.91 778M815.77 872L736.9 778M818.76 872L739.89 778M821.75 872L742.88 778M824.74 872L745.87 778M827.73 872L748.86 778M830.72 872L751.85 778M833.71 872L754.84 778M836.7 872L757.83 778M839.69 872L760.82 778M842.68 872L763.81 778M845.67 872L766.8 778M848.66 872L769.79 778M851.65 872L772.78 778M854.64 872L775.77 778M857.63 872L778.76 778M860.62 872L781.75 778M863.61 872L784.74 778M866.6 872L787.73 778M869.59 872L790.72 778M872.58 872L793.71 778M875.57 872L796.7 778M878.56 872L799.69 778M881.55 872L802.68 778M884.54 872L805.67 778M887.53 872L808.66 778M890.52 872L811.65 778M893.51 872L814.64 778M896.5 872L817.63 778M899.49 872L820.62 778M902.48 872L823.61 778M905.47 872L826.6 778M908.46 872L829.59 778M911.45 872L832.58 778M914.44 872L835.57 778M917.43 872L838.56 778M920.42 872L841.55 778M923.41 872L844.54 778M926.4 872L847.53 778M929.39 872L850.52 778M932.38 872L853.51 778M935.37 872L856.5 778M938.36 872L859.49 778M941.35 872L862.48 778M944.34 872L865.47 778M947.33 872L868.46 778M950.32 872L871.45 778M953.31 872L874.44 778" fill="none" stroke="#0d0d0d" stroke-width="1.25" stroke-linejoin="round" clip-path="url(#c19)"/>
<path d="M677.98 872L790 778M685.13 872L797.15 778M692.28 872L804.3 778M699.43 872L811.45 778M706.58 872L818.6 778M713.73 872L825.75 778M720.88 872L832.9 778M728.03 872L840.05 778M735.18 872L847.2 778M742.33 872L854.35 778M749.48 872L861.5 778M756.63 872L868.65 778M763.78 872L875.8 778M770.93 872L882.95 778M778.08 872L890.1 778M785.23 872L897.25 778M792.38 872L904.4 778M799.53 872L911.55 778M806.68 872L918.7 778M813.83 872L925.85 778M820.98 872L933 778M828.13 872L940.15 778M835.28 872L947.3 778M842.43 872L954.45 778M849.58 872L961.6 778M856.73 872L968.75 778M863.88 872L975.9 778M871.03 872L983.05 778M878.18 872L990.2 778M885.33 872L997.35 778M892.48 872L1004.5 778M899.63 872L1011.65 778M906.78 872L1018.8 778M913.93 872L1025.95 778M921.08 872L1033.1 778M928.23 872L1040.25 778M935.38 872L1047.4 778M942.53 872L1054.55 778M949.68 872L1061.7 778M956.83 872L1068.85 778M963.98 872L1076 778M971.13 872L1083.15 778M978.28 872L1090.3 778M985.43 872L1097.45 778" fill="none" stroke="#0d0d0d" stroke-width="1.12" stroke-linejoin="round" clip-path="url(#c19)"/>
<path d="M862 802L867.5 796.3L873 801.6L867.5 807.6Z" fill="#fff" stroke="#0d0d0d" stroke-width="2.57" stroke-linejoin="round"/>
<path d="M803.7 851.5L813.2 859.6L804.5 869L795 861Z" fill="#0d0d0d" stroke="#0d0d0d" stroke-width="2.11" stroke-linejoin="round"/>
<path d="M858.4 810.5L897.2 847.6L855.9 896.4L815.5 859.4Z" fill="#fff" stroke="#0d0d0d" stroke-width="3.28" stroke-linejoin="round"/>
<path d="M759.65 875L707.31 808M763.03 875L710.69 808M766.41 875L714.07 808M769.79 875L717.45 808M773.17 875L720.83 808M776.55 875L724.21 808M779.93 875L727.59 808M783.31 875L730.97 808M786.69 875L734.35 808M790.07 875L737.73 808M793.45 875L741.11 808M796.83 875L744.49 808M800.21 875L747.87 808M803.59 875L751.25 808M806.97 875L754.63 808M810.35 875L758.01 808M813.73 875L761.39 808M817.11 875L764.77 808M820.49 875L768.15 808M823.87 875L771.53 808M827.25 875L774.91 808M830.63 875L778.29 808M834.01 875L781.67 808M837.39 875L785.05 808M840.77 875L788.43 808M844.15 875L791.81 808M847.53 875L795.19 808M850.91 875L798.57 808M854.29 875L801.95 808M857.67 875L805.33 808M861.05 875L808.71 808M864.43 875L812.09 808M867.81 875L815.47 808M871.19 875L818.85 808M874.57 875L822.23 808M877.95 875L825.61 808M881.33 875L828.99 808M884.71 875L832.37 808M888.09 875L835.75 808M891.47 875L839.13 808M894.85 875L842.51 808M898.23 875L845.89 808M901.61 875L849.27 808M904.99 875L852.65 808M908.37 875L856.03 808M911.75 875L859.41 808M915.13 875L862.79 808M918.51 875L866.17 808M921.89 875L869.55 808" fill="none" stroke="#0d0d0d" stroke-width="1.12" stroke-linejoin="round" clip-path="url(#c21)"/>
<path d="M897.2 847.6L855.9 896.4L851.5 892.5L893 843.6Z" fill="#0d0d0d" stroke="#0d0d0d" stroke-width="1.75" stroke-linejoin="round"/>
<path d="M858.4 810.5L897.2 847.6L855.9 896.4L815.5 859.4Z" fill="none" stroke="#0d0d0d" stroke-width="3.28" stroke-linejoin="round"/>
<path d="M803.86 870L842 838M806.59 870L844.73 838M809.32 870L847.46 838M812.05 870L850.19 838M814.78 870L852.92 838M817.51 870L855.65 838M820.24 870L858.38 838M822.97 870L861.11 838M825.7 870L863.84 838M828.43 870L866.57 838M831.16 870L869.3 838M833.89 870L872.03 838M836.62 870L874.76 838M839.35 870L877.49 838M842.08 870L880.22 838M844.81 870L882.95 838M847.54 870L885.68 838M850.27 870L888.41 838M853 870L891.14 838M855.73 870L893.87 838M858.46 870L896.6 838M861.19 870L899.33 838M863.92 870L902.06 838M866.65 870L904.79 838M869.38 870L907.52 838M872.11 870L910.25 838M874.84 870L912.98 838M877.57 870L915.71 838M880.3 870L918.44 838M883.03 870L921.17 838M885.76 870L923.9 838M888.49 870L926.63 838M891.22 870L929.36 838M893.95 870L932.09 838M896.68 870L934.82 838M899.41 870L937.55 838M902.14 870L940.28 838M904.87 870L943.01 838M907.6 870L945.74 838M910.33 870L948.47 838M913.06 870L951.2 838" fill="none" stroke="#0d0d0d" stroke-width="0.81" stroke-linejoin="round" clip-path="url(#c22)"/>
<circle cx="854.2" cy="848.4" r="11.5" fill="#fff" stroke="#0d0d0d" stroke-width="3.28"/>
<circle cx="853.7" cy="848" r="6.8" fill="#fff" stroke="#0d0d0d" stroke-width="2.11"/>
<path d="M852 844.5q2.5 3 1.5 7.5" fill="none" stroke="#0d0d0d" stroke-width="1.62" stroke-linejoin="round"/>
<rect x="667" y="899" width="12" height="4.2" fill="#0d0d0d" stroke="#0d0d0d" stroke-width="2.11"/>
<rect x="662" y="892" width="22" height="8" fill="#0d0d0d" stroke="#0d0d0d" stroke-width="2.34"/>
<path d="M667 894.3V897.3M670.5 894.3V897.3M674 894.3V897.3M677 894.3V897.3" fill="none" stroke="#fff" stroke-width="1.25" stroke-linejoin="round"/>
<rect x="708" y="899" width="14" height="4.2" fill="#0d0d0d" stroke="#0d0d0d" stroke-width="2.11"/>
<rect x="703" y="892" width="24" height="8" fill="#0d0d0d" stroke="#0d0d0d" stroke-width="2.34"/>
<path d="M708 894.3V897.3M711.5 894.3V897.3M715 894.3V897.3M718 894.3V897.3" fill="none" stroke="#fff" stroke-width="1.25" stroke-linejoin="round"/>
<rect x="754" y="899" width="10" height="4.2" fill="#0d0d0d" stroke="#0d0d0d" stroke-width="2.11"/>
<rect x="749" y="892" width="20" height="8" fill="#0d0d0d" stroke="#0d0d0d" stroke-width="2.34"/>
<path d="M754 894.3V897.3M757.5 894.3V897.3M761 894.3V897.3M764 894.3V897.3" fill="none" stroke="#fff" stroke-width="1.25" stroke-linejoin="round"/>
<rect x="654.4" y="878" width="124.6" height="13.6" fill="#fff" stroke="#0d0d0d" stroke-width="3.28"/>
<path d="M684 881.47V888.34M687.6 880.01V887.95M691.2 880.92V887.58M694.8 882.38V887.27M698.4 881.29V887.46M702 881.69V888.87M705.6 882.25V887.05M709.2 882.19V887.01M712.8 880.98V888M716.4 880.26V887.41M720 880.16V888.83M723.6 880.52V888.59M727.2 880.85V888.87M730.8 880V888.62M734.4 880.25V888.09M738 880.06V886.81" fill="none" stroke="#0d0d0d" stroke-width="1.38" stroke-linejoin="round"/>
<path d="M715.01 892L735 878M718.91 892L738.9 878M722.81 892L742.8 878M726.71 892L746.7 878M730.61 892L750.6 878M734.51 892L754.5 878M738.41 892L758.4 878M742.31 892L762.3 878M746.21 892L766.2 878M750.11 892L770.1 878M754.01 892L774 878M757.91 892L777.9 878M761.81 892L781.8 878M765.71 892L785.7 878M769.61 892L789.6 878M773.51 892L793.5 878M777.41 892L797.4 878M781.31 892L801.3 878M785.21 892L805.2 878M789.11 892L809.1 878M793.01 892L813 878M796.91 892L816.9 878" fill="none" stroke="#0d0d0d" stroke-width="1.12" stroke-linejoin="round" clip-path="url(#c24)"/>
<circle cx="714.5" cy="735" r="143.5" fill="#fff" stroke="#0d0d0d" stroke-width="3.04"/>
<path d="M786.05 611.07A143.1 143.1 0 1 1 590.57 806.55" fill="none" stroke="#0d0d0d" stroke-width="4.68" stroke-linejoin="round"/>
<path d="M739.38 593.88A143.3 143.3 0 0 1 786.15 610.9" fill="none" stroke="#0d0d0d" stroke-width="3.74" stroke-linejoin="round"/>
<path d="M590.4 806.65A143.3 143.3 0 0 1 573.38 759.88" fill="none" stroke="#0d0d0d" stroke-width="3.74" stroke-linejoin="round"/>
<circle cx="714.5" cy="735" r="128" fill="#fff" stroke="#0d0d0d" stroke-width="2.57"/>
<path d="M651 844.99L651 844.99M648.43 843.46L649 844.03M645.89 841.87L646.76 842.74M643.39 840.23L644.5 841.34M640.93 838.52L642.25 839.84M638.51 836.76L640.02 838.27M636.14 834.94L637.82 836.63M633.8 833.07L635.65 834.91M631.52 831.14L633.52 833.14M629.27 829.16L631.42 831.3M627.08 827.12L629.36 829.41M624.93 825.04L627.35 827.45M622.84 822.9L625.38 825.44M620.79 820.72L623.46 823.38M618.8 818.49L621.58 821.27M616.86 816.21L619.75 819.1M614.97 813.89L617.98 816.89M613.14 811.52L616.25 814.63M611.37 809.11L614.58 812.33M609.65 806.66L612.96 809.98M607.99 804.17L611.4 807.58M606.39 801.64L609.9 805.15M604.85 799.08L608.45 802.68M603.37 796.47L607.06 800.17M601.95 793.84L605.73 797.62M600.6 791.17L604.46 795.04M599.31 788.47L603.25 792.42M598.08 785.74L602.11 789.77M596.91 782.99L601.02 787.09M595.82 780.2L600 784.39M594.78 777.39L599.04 781.65M593.82 774.56L598.15 778.89M592.92 771.71L597.32 776.11M592.09 768.83L596.56 773.3M591.33 765.94L595.86 770.48M590.63 763.03L595.23 767.63M590.01 760.1L594.67 764.77M589.45 757.16L594.18 761.89M588.96 754.21L593.75 759M588.54 751.25L593.39 756.09M588.2 748.28L593.1 753.18M587.92 745.3L592.87 750.25M587.71 742.31L592.72 747.32M587.57 739.32L592.63 744.38M587.51 736.33L592.62 741.44M587.51 733.34L592.67 738.49M587.59 730.35L592.79 735.55M587.73 727.36L592.98 732.6M587.95 724.37L593.24 729.66M588.23 721.39L593.56 726.73M588.59 718.42L593.96 723.79M589.01 715.46L594.42 720.87M589.51 712.51L594.95 717.96M590.07 709.57L595.55 715.05M590.71 706.65L596.22 712.16M591.41 703.74L596.95 709.28M592.18 700.85L597.75 706.42M593.02 697.97L598.62 703.58M593.92 695.12L599.55 700.75M594.9 692.29L600.55 697.95M595.94 689.49L601.62 695.17M597.04 686.71L602.74 692.41M598.21 683.95L603.93 689.68M599.45 681.23L605.19 686.97M600.74 678.53L606.5 684.29M602.11 675.87L607.88 681.64M603.53 673.24L609.32 679.03M605.02 670.64L610.82 676.44M606.56 668.08L612.38 673.89M608.17 665.55L613.99 671.38M609.84 663.07L615.67 668.9M611.56 660.62L617.4 666.46M613.34 658.22L619.18 664.06M615.18 655.85L621.03 661.7M617.07 653.54L622.92 659.39M619.02 651.26L624.87 657.11M621.02 649.04L626.86 654.89M623.07 646.86L628.91 652.7M625.17 644.73L631.01 650.57M627.32 642.65L633.16 648.49M629.52 640.62L635.35 646.45M631.77 638.64L637.59 644.47M634.06 636.72L639.87 642.53M636.4 634.85L642.2 640.65M638.78 633.04L644.56 638.83M641.2 631.29L646.97 637.06M643.67 629.59L649.42 635.34M646.17 627.95L651.9 633.68M648.71 626.37L654.43 632.08M651.29 624.85L656.98 630.54M653.9 623.39L659.57 629.06M656.55 621.99L662.19 627.64M659.23 620.66L664.85 626.28M661.93 619.39L667.53 624.98M664.67 618.18L670.24 623.75M667.44 617.04L672.97 622.57M670.23 615.97L675.73 621.47M673.05 614.96L678.52 620.42M675.89 614.01L681.32 619.44M678.75 613.14L684.14 618.53M681.63 612.33L686.99 617.68M684.53 611.59L689.85 616.9M687.45 610.92L692.72 616.19M690.38 610.31L695.61 615.54M693.32 609.78L698.51 614.96M696.28 609.31L701.42 614.45M699.24 608.92L704.33 614.01M702.22 608.6L707.26 613.64M705.2 608.34L710.19 613.33M708.19 608.16L713.12 613.09M711.18 608.04L716.06 612.92M714.17 608L718.99 612.82M717.16 608.03L721.92 612.79M720.15 608.13L724.85 612.83M723.14 608.29L727.78 612.94M726.12 608.53L730.7 613.11M729.1 608.84L733.61 613.35M732.07 609.22L736.51 613.67M735.02 609.67L739.4 614.05M737.97 610.19L742.28 614.49M740.9 610.78L745.14 615.01M743.82 611.43L747.98 615.59M746.73 612.16L750.81 616.24M749.61 612.95L753.61 616.95M752.48 613.81L756.4 617.73M755.32 614.74L759.16 618.57M758.14 615.74L761.89 619.48M760.94 616.8L764.6 620.46M763.71 617.92L767.28 621.49M766.46 619.12L769.93 622.59M769.17 620.37L772.55 623.75M771.86 621.69L775.14 624.97M774.51 623.07L777.69 626.25M777.13 624.52L780.21 627.59M779.72 626.03L782.69 628.99M782.27 627.59L785.12 630.45M784.78 629.22L787.52 631.96M787.25 630.9L789.87 633.52M789.69 632.65L792.18 635.14M792.08 634.45L794.44 636.81M794.42 636.3L796.66 638.54M796.73 638.21L798.82 640.31M798.98 640.18L800.93 642.12M801.19 642.19L802.98 643.98M803.36 644.26L804.98 645.88M805.47 646.38L806.91 647.82M807.53 648.55L808.78 649.8M809.54 650.76L810.57 651.79M811.5 653.03L812.27 653.8M813.41 655.33L813.84 655.77" fill="none" stroke="#222" stroke-width="0.78" stroke-linejoin="round" clip-path="url(#c25)"/>
<path d="M692.27 861.06A128 128 0 1 1 825.35 671" fill="none" stroke="#0d0d0d" stroke-width="4.91" stroke-linejoin="round"/>
<path d="M825.35 671A128 128 0 0 1 840.56 712.77" fill="none" stroke="#0d0d0d" stroke-width="3.51" stroke-linejoin="round"/>
<path d="M725.66 862.51A128 128 0 0 1 692.27 861.06" fill="none" stroke="#0d0d0d" stroke-width="3.51" stroke-linejoin="round"/>
<line x1="613.74" y1="634.24" x2="626.82" y2="647.32" stroke="#0d0d0d" stroke-width="1.62"/>
<line x1="815.26" y1="634.24" x2="802.18" y2="647.32" stroke="#0d0d0d" stroke-width="1.62"/>
<line x1="613.74" y1="835.76" x2="626.82" y2="822.68" stroke="#0d0d0d" stroke-width="1.62"/>
<line x1="815.26" y1="835.76" x2="802.18" y2="822.68" stroke="#0d0d0d" stroke-width="1.62"/>
<path d="M504.34 801L654.5 675M507.2 801L657.36 675M510.06 801L660.22 675M512.92 801L663.08 675M515.78 801L665.94 675M518.64 801L668.8 675M521.5 801L671.66 675M524.36 801L674.52 675M527.22 801L677.38 675M530.08 801L680.24 675M532.94 801L683.1 675M535.8 801L685.96 675M538.66 801L688.82 675M541.52 801L691.68 675M544.38 801L694.54 675M547.24 801L697.4 675M550.1 801L700.26 675M552.96 801L703.12 675M555.82 801L705.98 675M558.68 801L708.84 675M561.54 801L711.7 675M564.4 801L714.56 675M567.26 801L717.42 675M570.12 801L720.28 675M572.98 801L723.14 675M575.84 801L726 675M578.7 801L728.86 675M581.56 801L731.72 675M584.42 801L734.58 675M587.28 801L737.44 675M590.14 801L740.3 675M593 801L743.16 675M595.86 801L746.02 675M598.72 801L748.88 675M601.58 801L751.74 675M604.44 801L754.6 675M607.3 801L757.46 675M610.16 801L760.32 675M613.02 801L763.18 675M615.88 801L766.04 675M618.74 801L768.9 675M621.6 801L771.76 675M624.46 801L774.62 675M627.32 801L777.48 675M630.18 801L780.34 675M633.04 801L783.2 675M635.9 801L786.06 675M638.76 801L788.92 675M641.62 801L791.78 675M644.48 801L794.64 675M647.34 801L797.5 675M650.2 801L800.36 675M653.06 801L803.22 675M655.92 801L806.08 675M658.78 801L808.94 675M661.64 801L811.8 675M664.5 801L814.66 675M667.36 801L817.52 675M670.22 801L820.38 675M673.08 801L823.24 675M675.94 801L826.1 675M678.8 801L828.96 675M681.66 801L831.82 675M684.52 801L834.68 675M687.38 801L837.54 675M690.24 801L840.4 675M693.1 801L843.26 675M695.96 801L846.12 675M698.82 801L848.98 675M701.68 801L851.84 675M704.54 801L854.7 675M707.4 801L857.56 675M710.26 801L860.42 675M713.12 801L863.28 675M715.98 801L866.14 675M718.84 801L869 675M721.7 801L871.86 675M724.56 801L874.72 675M727.42 801L877.58 675M730.28 801L880.44 675M733.14 801L883.3 675M736 801L886.16 675M738.86 801L889.02 675M741.72 801L891.88 675M744.58 801L894.74 675M747.44 801L897.6 675M750.3 801L900.46 675M753.16 801L903.32 675M756.02 801L906.18 675M758.88 801L909.04 675M761.74 801L911.9 675M764.6 801L914.76 675M767.46 801L917.62 675M770.32 801L920.48 675M773.18 801L923.34 675M776.04 801L926.2 675M778.9 801L929.06 675M781.76 801L931.92 675M784.62 801L934.78 675M787.48 801L937.64 675M790.34 801L940.5 675M793.2 801L943.36 675M796.06 801L946.22 675M798.92 801L949.08 675M801.78 801L951.94 675M804.64 801L954.8 675M807.5 801L957.66 675M810.36 801L960.52 675M813.22 801L963.38 675M816.08 801L966.24 675M818.94 801L969.1 675M821.8 801L971.96 675M824.66 801L974.82 675M827.52 801L977.68 675M830.38 801L980.54 675M833.24 801L983.4 675M836.1 801L986.26 675M838.96 801L989.12 675M841.82 801L991.98 675M844.68 801L994.84 675M847.54 801L997.7 675M850.4 801L1000.56 675M853.26 801L1003.42 675M856.12 801L1006.28 675M858.98 801L1009.14 675M861.84 801L1012 675M864.7 801L1014.86 675M867.56 801L1017.72 675M870.42 801L1020.58 675M873.28 801L1023.44 675M876.14 801L1026.3 675M879 801L1029.16 675M881.86 801L1032.02 675M884.72 801L1034.88 675M887.58 801L1037.74 675M890.44 801L1040.6 675M893.3 801L1043.46 675M896.16 801L1046.32 675M899.02 801L1049.18 675M901.88 801L1052.04 675M904.74 801L1054.9 675M907.6 801L1057.76 675M910.46 801L1060.62 675M913.32 801L1063.48 675M916.18 801L1066.34 675M919.04 801L1069.2 675M921.9 801L1072.06 675M924.76 801L1074.92 675M927.62 801L1077.78 675M930.48 801L1080.64 675" fill="none" stroke="#222" stroke-width="0.75" stroke-linejoin="round" clip-path="url(#c26)"/>
<circle cx="714.5" cy="735" r="56.5" fill="#fff" stroke="#0d0d0d" stroke-width="2.34"/>
<path d="M763.43 706.75A56.5 56.5 0 0 1 678.18 778.28" fill="none" stroke="#0d0d0d" stroke-width="4.21" stroke-linejoin="round"/>
<circle cx="714.5" cy="735" r="49.3" fill="#fff" stroke="#0d0d0d" stroke-width="2.34"/>
<path d="M683.45 772L683.45 772M681.44 770.21L682.18 770.96M679.52 768.31L680.66 769.44M677.72 766.3L679.16 767.75M676.03 764.2L677.74 765.91M674.46 762.01L676.41 763.96M673.01 759.73L675.18 761.9M671.7 757.38L674.07 759.75M670.51 754.95L673.08 757.52M669.47 752.47L672.21 755.21M668.56 749.93L671.47 752.83M667.8 747.34L670.86 750.4M667.19 744.71L670.39 747.91M666.72 742.06L670.06 745.39M666.4 739.38L669.86 742.84M666.23 736.69L669.81 740.27M666.21 733.99L669.91 737.68M666.34 731.29L670.14 735.09M666.62 728.61L670.52 732.51M667.06 725.95L671.04 729.93M667.63 723.32L671.7 727.38M668.36 720.72L672.5 724.86M669.23 718.16L673.44 722.37M670.24 715.66L674.51 719.93M671.39 713.22L675.71 717.54M672.67 710.85L677.04 715.22M674.08 708.55L678.49 712.96M675.62 706.34L680.06 710.78M677.28 704.21L681.75 708.68M679.06 702.18L683.54 706.67M680.95 700.26L685.44 704.75M682.94 698.44L687.44 702.94M685.03 696.73L689.53 701.23M687.21 695.15L691.7 699.64M689.48 693.69L693.95 698.16M691.82 692.35L696.28 696.81M694.24 691.15L698.66 695.58M696.72 690.09L701.11 694.48M699.25 689.17L703.6 693.51M701.84 688.39L706.13 692.68M704.46 687.76L708.7 691.99M707.11 687.27L711.29 691.44M709.79 686.93L713.89 691.03M712.48 686.74L716.5 690.77M715.17 686.7L719.12 690.65M717.87 686.82L721.72 690.67M720.55 687.08L724.3 690.83M723.22 687.49L726.86 691.13M725.86 688.05L729.38 691.58M728.46 688.76L731.86 692.16M731.02 689.61L734.29 692.88M733.53 690.61L736.66 693.74M735.98 691.74L738.96 694.72M738.36 693L741.18 695.83M740.66 694.4L743.32 697.05M742.89 695.92L745.36 698.4M745.03 697.57L747.3 699.85M747.07 699.33L749.13 701.4M749.01 701.21L750.84 703.04M750.84 703.19L752.42 704.77M752.56 705.26L753.86 706.56M754.16 707.43L755.12 708.39M755.64 709.69L756.13 710.19" fill="none" stroke="#222" stroke-width="0.75" stroke-linejoin="round" clip-path="url(#c27)"/>
<path d="M671.8 759.65A49.3 49.3 0 0 1 757.2 710.35" fill="none" stroke="#0d0d0d" stroke-width="3.28" stroke-linejoin="round"/>
<path d="M673.15 637.3L706 614.3M675.88 637.3L708.73 614.3M678.61 637.3L711.46 614.3M681.34 637.3L714.19 614.3M684.07 637.3L716.92 614.3M686.8 637.3L719.65 614.3M689.53 637.3L722.38 614.3M692.26 637.3L725.11 614.3M694.99 637.3L727.84 614.3M697.72 637.3L730.57 614.3M700.45 637.3L733.3 614.3M703.18 637.3L736.03 614.3M705.91 637.3L738.76 614.3M708.64 637.3L741.49 614.3M711.37 637.3L744.22 614.3M714.1 637.3L746.95 614.3M716.83 637.3L749.68 614.3M719.56 637.3L752.41 614.3M722.29 637.3L755.14 614.3M725.02 637.3L757.87 614.3M727.75 637.3L760.6 614.3M730.48 637.3L763.33 614.3M733.21 637.3L766.06 614.3M735.94 637.3L768.79 614.3M738.67 637.3L771.52 614.3M741.4 637.3L774.25 614.3M744.13 637.3L776.98 614.3M746.86 637.3L779.71 614.3M749.59 637.3L782.44 614.3M752.32 637.3L785.17 614.3M755.05 637.3L787.9 614.3M757.78 637.3L790.63 614.3M760.51 637.3L793.36 614.3" fill="none" stroke="#0d0d0d" stroke-width="0.78" stroke-linejoin="round" clip-path="url(#c28)"/>
<path d="M727.5 622.3A10.5 10.5 0 0 1 713 635.5" fill="none" stroke="#444" stroke-width="1.12" stroke-linejoin="round"/>
<circle cx="714" cy="621.3" r="9.6" fill="#fff" stroke="#0d0d0d" stroke-width="2.22"/>
<circle cx="713.7" cy="621" r="5.2" fill="#fff" stroke="#0d0d0d" stroke-width="1.75"/>
<path d="M593.55 671L626.4 648M596.28 671L629.13 648M599.01 671L631.86 648M601.74 671L634.59 648M604.47 671L637.32 648M607.2 671L640.05 648M609.93 671L642.78 648M612.66 671L645.51 648M615.39 671L648.24 648M618.12 671L650.97 648M620.85 671L653.7 648M623.58 671L656.43 648M626.31 671L659.16 648M629.04 671L661.89 648M631.77 671L664.62 648M634.5 671L667.35 648M637.23 671L670.08 648M639.96 671L672.81 648M642.69 671L675.54 648M645.42 671L678.27 648M648.15 671L681 648M650.88 671L683.73 648M653.61 671L686.46 648M656.34 671L689.19 648M659.07 671L691.92 648M661.8 671L694.65 648M664.53 671L697.38 648M667.26 671L700.11 648M669.99 671L702.84 648M672.72 671L705.57 648M675.45 671L708.3 648M678.18 671L711.03 648M680.91 671L713.76 648" fill="none" stroke="#0d0d0d" stroke-width="0.78" stroke-linejoin="round" clip-path="url(#c29)"/>
<path d="M647.9 656A10.5 10.5 0 0 1 633.4 669.2" fill="none" stroke="#444" stroke-width="1.12" stroke-linejoin="round"/>
<circle cx="634.4" cy="655" r="9.6" fill="#fff" stroke="#0d0d0d" stroke-width="2.22"/>
<circle cx="634.1" cy="654.7" r="5.2" fill="#fff" stroke="#0d0d0d" stroke-width="1.75"/>
<path d="M753.15 671L786 648M755.88 671L788.73 648M758.61 671L791.46 648M761.34 671L794.19 648M764.07 671L796.92 648M766.8 671L799.65 648M769.53 671L802.38 648M772.26 671L805.11 648M774.99 671L807.84 648M777.72 671L810.57 648M780.45 671L813.3 648M783.18 671L816.03 648M785.91 671L818.76 648M788.64 671L821.49 648M791.37 671L824.22 648M794.1 671L826.95 648M796.83 671L829.68 648M799.56 671L832.41 648M802.29 671L835.14 648M805.02 671L837.87 648M807.75 671L840.6 648M810.48 671L843.33 648M813.21 671L846.06 648M815.94 671L848.79 648M818.67 671L851.52 648M821.4 671L854.25 648M824.13 671L856.98 648M826.86 671L859.71 648M829.59 671L862.44 648M832.32 671L865.17 648M835.05 671L867.9 648M837.78 671L870.63 648M840.51 671L873.36 648" fill="none" stroke="#0d0d0d" stroke-width="0.78" stroke-linejoin="round" clip-path="url(#c30)"/>
<path d="M807.5 656A10.5 10.5 0 0 1 793 669.2" fill="none" stroke="#444" stroke-width="1.12" stroke-linejoin="round"/>
<circle cx="794" cy="655" r="9.6" fill="#fff" stroke="#0d0d0d" stroke-width="2.22"/>
<circle cx="793.7" cy="654.7" r="5.2" fill="#fff" stroke="#0d0d0d" stroke-width="1.75"/>
<path d="M562.15 751.3L595 728.3M564.88 751.3L597.73 728.3M567.61 751.3L600.46 728.3M570.34 751.3L603.19 728.3M573.07 751.3L605.92 728.3M575.8 751.3L608.65 728.3M578.53 751.3L611.38 728.3M581.26 751.3L614.11 728.3M583.99 751.3L616.84 728.3M586.72 751.3L619.57 728.3M589.45 751.3L622.3 728.3M592.18 751.3L625.03 728.3M594.91 751.3L627.76 728.3M597.64 751.3L630.49 728.3M600.37 751.3L633.22 728.3M603.1 751.3L635.95 728.3M605.83 751.3L638.68 728.3M608.56 751.3L641.41 728.3M611.29 751.3L644.14 728.3M614.02 751.3L646.87 728.3M616.75 751.3L649.6 728.3M619.48 751.3L652.33 728.3M622.21 751.3L655.06 728.3M624.94 751.3L657.79 728.3M627.67 751.3L660.52 728.3M630.4 751.3L663.25 728.3M633.13 751.3L665.98 728.3M635.86 751.3L668.71 728.3M638.59 751.3L671.44 728.3M641.32 751.3L674.17 728.3M644.05 751.3L676.9 728.3M646.78 751.3L679.63 728.3M649.51 751.3L682.36 728.3" fill="none" stroke="#0d0d0d" stroke-width="0.78" stroke-linejoin="round" clip-path="url(#c31)"/>
<path d="M616.5 736.3A10.5 10.5 0 0 1 602 749.5" fill="none" stroke="#444" stroke-width="1.12" stroke-linejoin="round"/>
<circle cx="603" cy="735.3" r="9.6" fill="#fff" stroke="#0d0d0d" stroke-width="2.22"/>
<circle cx="602.7" cy="735" r="5.2" fill="#fff" stroke="#0d0d0d" stroke-width="1.75"/>
<path d="M786.15 751.3L819 728.3M788.88 751.3L821.73 728.3M791.61 751.3L824.46 728.3M794.34 751.3L827.19 728.3M797.07 751.3L829.92 728.3M799.8 751.3L832.65 728.3M802.53 751.3L835.38 728.3M805.26 751.3L838.11 728.3M807.99 751.3L840.84 728.3M810.72 751.3L843.57 728.3M813.45 751.3L846.3 728.3M816.18 751.3L849.03 728.3M818.91 751.3L851.76 728.3M821.64 751.3L854.49 728.3M824.37 751.3L857.22 728.3M827.1 751.3L859.95 728.3M829.83 751.3L862.68 728.3M832.56 751.3L865.41 728.3M835.29 751.3L868.14 728.3M838.02 751.3L870.87 728.3M840.75 751.3L873.6 728.3M843.48 751.3L876.33 728.3M846.21 751.3L879.06 728.3M848.94 751.3L881.79 728.3M851.67 751.3L884.52 728.3M854.4 751.3L887.25 728.3M857.13 751.3L889.98 728.3M859.86 751.3L892.71 728.3M862.59 751.3L895.44 728.3M865.32 751.3L898.17 728.3M868.05 751.3L900.9 728.3M870.78 751.3L903.63 728.3M873.51 751.3L906.36 728.3" fill="none" stroke="#0d0d0d" stroke-width="0.78" stroke-linejoin="round" clip-path="url(#c32)"/>
<path d="M840.5 736.3A10.5 10.5 0 0 1 826 749.5" fill="none" stroke="#444" stroke-width="1.12" stroke-linejoin="round"/>
<circle cx="827" cy="735.3" r="9.6" fill="#fff" stroke="#0d0d0d" stroke-width="2.22"/>
<circle cx="826.7" cy="735" r="5.2" fill="#fff" stroke="#0d0d0d" stroke-width="1.75"/>
<path d="M593.35 831L626.2 808M596.08 831L628.93 808M598.81 831L631.66 808M601.54 831L634.39 808M604.27 831L637.12 808M607 831L639.85 808M609.73 831L642.58 808M612.46 831L645.31 808M615.19 831L648.04 808M617.92 831L650.77 808M620.65 831L653.5 808M623.38 831L656.23 808M626.11 831L658.96 808M628.84 831L661.69 808M631.57 831L664.42 808M634.3 831L667.15 808M637.03 831L669.88 808M639.76 831L672.61 808M642.49 831L675.34 808M645.22 831L678.07 808M647.95 831L680.8 808M650.68 831L683.53 808M653.41 831L686.26 808M656.14 831L688.99 808M658.87 831L691.72 808M661.6 831L694.45 808M664.33 831L697.18 808M667.06 831L699.91 808M669.79 831L702.64 808M672.52 831L705.37 808M675.25 831L708.1 808M677.98 831L710.83 808M680.71 831L713.56 808" fill="none" stroke="#0d0d0d" stroke-width="0.78" stroke-linejoin="round" clip-path="url(#c33)"/>
<path d="M647.7 816A10.5 10.5 0 0 1 633.2 829.2" fill="none" stroke="#444" stroke-width="1.12" stroke-linejoin="round"/>
<circle cx="634.2" cy="815" r="9.6" fill="#fff" stroke="#0d0d0d" stroke-width="2.22"/>
<circle cx="633.9" cy="814.7" r="5.2" fill="#fff" stroke="#0d0d0d" stroke-width="1.75"/>
<path d="M753.15 830.6L786 807.6M755.88 830.6L788.73 807.6M758.61 830.6L791.46 807.6M761.34 830.6L794.19 807.6M764.07 830.6L796.92 807.6M766.8 830.6L799.65 807.6M769.53 830.6L802.38 807.6M772.26 830.6L805.11 807.6M774.99 830.6L807.84 807.6M777.72 830.6L810.57 807.6M780.45 830.6L813.3 807.6M783.18 830.6L816.03 807.6M785.91 830.6L818.76 807.6M788.64 830.6L821.49 807.6M791.37 830.6L824.22 807.6M794.1 830.6L826.95 807.6M796.83 830.6L829.68 807.6M799.56 830.6L832.41 807.6M802.29 830.6L835.14 807.6M805.02 830.6L837.87 807.6M807.75 830.6L840.6 807.6M810.48 830.6L843.33 807.6M813.21 830.6L846.06 807.6M815.94 830.6L848.79 807.6M818.67 830.6L851.52 807.6M821.4 830.6L854.25 807.6M824.13 830.6L856.98 807.6M826.86 830.6L859.71 807.6M829.59 830.6L862.44 807.6M832.32 830.6L865.17 807.6M835.05 830.6L867.9 807.6M837.78 830.6L870.63 807.6M840.51 830.6L873.36 807.6" fill="none" stroke="#0d0d0d" stroke-width="0.78" stroke-linejoin="round" clip-path="url(#c34)"/>
<path d="M807.5 815.6A10.5 10.5 0 0 1 793 828.8" fill="none" stroke="#444" stroke-width="1.12" stroke-linejoin="round"/>
<circle cx="794" cy="814.6" r="9.6" fill="#fff" stroke="#0d0d0d" stroke-width="2.22"/>
<circle cx="793.7" cy="814.3" r="5.2" fill="#fff" stroke="#0d0d0d" stroke-width="1.75"/>
<path d="M672.95 864.4L705.8 841.4M675.68 864.4L708.53 841.4M678.41 864.4L711.26 841.4M681.14 864.4L713.99 841.4M683.87 864.4L716.72 841.4M686.6 864.4L719.45 841.4M689.33 864.4L722.18 841.4M692.06 864.4L724.91 841.4M694.79 864.4L727.64 841.4M697.52 864.4L730.37 841.4M700.25 864.4L733.1 841.4M702.98 864.4L735.83 841.4M705.71 864.4L738.56 841.4M708.44 864.4L741.29 841.4M711.17 864.4L744.02 841.4M713.9 864.4L746.75 841.4M716.63 864.4L749.48 841.4M719.36 864.4L752.21 841.4M722.09 864.4L754.94 841.4M724.82 864.4L757.67 841.4M727.55 864.4L760.4 841.4M730.28 864.4L763.13 841.4M733.01 864.4L765.86 841.4M735.74 864.4L768.59 841.4M738.47 864.4L771.32 841.4M741.2 864.4L774.05 841.4M743.93 864.4L776.78 841.4M746.66 864.4L779.51 841.4M749.39 864.4L782.24 841.4M752.12 864.4L784.97 841.4M754.85 864.4L787.7 841.4M757.58 864.4L790.43 841.4M760.31 864.4L793.16 841.4" fill="none" stroke="#0d0d0d" stroke-width="0.78" stroke-linejoin="round" clip-path="url(#c35)"/>
<path d="M727.3 849.4A10.5 10.5 0 0 1 712.8 862.6" fill="none" stroke="#444" stroke-width="1.12" stroke-linejoin="round"/>
<circle cx="713.8" cy="848.4" r="9.6" fill="#fff" stroke="#0d0d0d" stroke-width="2.22"/>
<circle cx="713.5" cy="848.1" r="5.2" fill="#fff" stroke="#0d0d0d" stroke-width="1.75"/>
<path d="M673.65 751L706.5 728M676.38 751L709.23 728M679.11 751L711.96 728M681.84 751L714.69 728M684.57 751L717.42 728M687.3 751L720.15 728M690.03 751L722.88 728M692.76 751L725.61 728M695.49 751L728.34 728M698.22 751L731.07 728M700.95 751L733.8 728M703.68 751L736.53 728M706.41 751L739.26 728M709.14 751L741.99 728M711.87 751L744.72 728M714.6 751L747.45 728M717.33 751L750.18 728M720.06 751L752.91 728M722.79 751L755.64 728M725.52 751L758.37 728M728.25 751L761.1 728M730.98 751L763.83 728M733.71 751L766.56 728M736.44 751L769.29 728M739.17 751L772.02 728M741.9 751L774.75 728M744.63 751L777.48 728M747.36 751L780.21 728M750.09 751L782.94 728M752.82 751L785.67 728M755.55 751L788.4 728M758.28 751L791.13 728M761.01 751L793.86 728" fill="none" stroke="#0d0d0d" stroke-width="0.78" stroke-linejoin="round" clip-path="url(#c36)"/>
<path d="M728 736A10.5 10.5 0 0 1 713.5 749.2" fill="none" stroke="#444" stroke-width="1.12" stroke-linejoin="round"/>
<circle cx="714.5" cy="735" r="9.6" fill="#fff" stroke="#0d0d0d" stroke-width="2.22"/>
<circle cx="714.2" cy="734.7" r="5.2" fill="#fff" stroke="#0d0d0d" stroke-width="1.75"/>
<line x1="541" y1="735" x2="888" y2="735" stroke="#0d0d0d" stroke-width="1.87" stroke-dasharray="26 5"/>
<line x1="714.5" y1="567" x2="714.5" y2="912" stroke="#0d0d0d" stroke-width="1.87" stroke-dasharray="26 5"/>
<path d="M541 735l5 -2v4Z" fill="#0d0d0d" stroke="#0d0d0d" stroke-width="0.75" stroke-linejoin="round"/>
<path d="M888 735l-5 -2v4Z" fill="#0d0d0d" stroke="#0d0d0d" stroke-width="0.75" stroke-linejoin="round"/>
<path d="M714.5 567l-1.8 5h3.6Z" fill="#0d0d0d" stroke="#0d0d0d" stroke-width="0.75" stroke-linejoin="round"/>
<path d="M714.5 912l-1.8 -5h3.6Z" fill="#0d0d0d" stroke="#0d0d0d" stroke-width="0.75" stroke-linejoin="round"/>
<line x1="945.9" y1="689.8" x2="1312.6" y2="689.8" stroke="#0d0d0d" stroke-width="3.04"/>
<path d="M1119 95V84A26.3 24.6 0 0 1 1145.3 59.4H1240.2A32.4 33.6 0 0 1 1272.6 93V250H1251.4V95A13.2 13.2 0 0 0 1238.2 81.8H1151.9A9.2 9.2 0 0 0 1142.7 91V95Z" fill="#fff" stroke="#0d0d0d" stroke-width="2.81" stroke-linejoin="round"/>
<path d="M1240.2 59.4A32.4 33.6 0 0 1 1272.6 93V250" fill="none" stroke="#0d0d0d" stroke-width="3.51" stroke-linejoin="round"/>
<path d="M1161.3 81.8H1238.2" fill="none" stroke="#0d0d0d" stroke-width="3.51" stroke-linejoin="round"/>
<path d="M1135.3 94V91A14 14 0 0 1 1149.3 77H1151.3" fill="none" stroke="#0d0d0d" stroke-width="1.25" stroke-linejoin="round"/>
<path d="M1163.3 72.5H1233.2" fill="none" stroke="#0d0d0d" stroke-width="1.25" stroke-linejoin="round" stroke-dasharray="7 2.5"/>
<path d="M1163.3 78.3H1237.2" fill="none" stroke="#0d0d0d" stroke-width="1.12" stroke-linejoin="round" stroke-dasharray="9 2"/>
<path d="M1240.2 65A27 28 0 0 1 1266.7 93V160" fill="none" stroke="#0d0d0d" stroke-width="1.25" stroke-linejoin="round" stroke-dasharray="14 2"/>
<path d="M1249.2 70A22 23 0 0 1 1262.7 93V160" fill="none" stroke="#0d0d0d" stroke-width="1.12" stroke-linejoin="round" stroke-dasharray="10 3"/>
<path d="M1263 178V248" fill="none" stroke="#0d0d0d" stroke-width="1.25" stroke-linejoin="round"/>
<path d="M1267.2 178V248" fill="none" stroke="#0d0d0d" stroke-width="1.56" stroke-linejoin="round"/>
<path d="M1259.4 202V248" fill="none" stroke="#0d0d0d" stroke-width="0.88" stroke-linejoin="round" stroke-dasharray="8 3"/>
<rect x="1150.8" y="54.9" width="10.8" height="31.1" fill="#fff" stroke="#0d0d0d" stroke-width="2.81" rx="1"/>
<path d="M1158.6 72V85" fill="none" stroke="#0d0d0d" stroke-width="1.25" stroke-linejoin="round"/>
<path d="M1155.3 78H1160.8M1155.3 80.5H1160.8M1155.3 83H1160.8" fill="none" stroke="#0d0d0d" stroke-width="1" stroke-linejoin="round"/>
<rect x="1245.1" y="159.9" width="31.3" height="16.7" fill="#fff" stroke="#0d0d0d" stroke-width="2.81" rx="1.5"/>
<line x1="1245.2" y1="166.8" x2="1276.2" y2="166.8" stroke="#0d0d0d" stroke-width="1.87"/>
<path d="M1263.2 161V175.5M1266.87 161V175.5M1270.53 161V175.5M1274.2 161V175.5" fill="none" stroke="#0d0d0d" stroke-width="1.12" stroke-linejoin="round"/>
<rect x="1247" y="231" width="8" height="18" fill="#fff"/>
<path d="M1257 231V249M1259.6 231V249" fill="none" stroke="#0d0d0d" stroke-width="1.25" stroke-linejoin="round"/>
<rect x="1254.2" y="276" width="18" height="13.5" fill="#fff" stroke="#0d0d0d" stroke-width="2.81"/>
<path d="M1263 277V288.5M1267 277V288.5M1271 277V288.5" fill="none" stroke="#0d0d0d" stroke-width="1.12" stroke-linejoin="round"/>
<rect x="1285.6" y="258" width="4" height="9" fill="#0d0d0d" stroke="#0d0d0d" stroke-width="1.87" rx="1"/>
<rect x="1279.8" y="253.4" width="6.2" height="17.6" fill="#fff" stroke="#0d0d0d" stroke-width="2.34"/>
<path d="M1282 254.5V270.5M1284 254.5V270.5" fill="none" stroke="#0d0d0d" stroke-width="1.25" stroke-linejoin="round"/>
<rect x="1246.6" y="249.7" width="33.2" height="26.5" fill="#fff" stroke="#0d0d0d" stroke-width="3.04"/>
<path d="M1249 253.46V274.41M1253 252.01V273.61M1257 252.46V274.51" fill="none" stroke="#0d0d0d" stroke-width="1.25" stroke-linejoin="round"/>
<line x1="1278.6" y1="249.7" x2="1278.6" y2="276.2" stroke="#0d0d0d" stroke-width="3.98"/>
<rect x="1020.1" y="522" width="222.1" height="146" fill="#fff" stroke="#0d0d0d" stroke-width="2.57"/>
<line x1="1241.8" y1="522" x2="1241.8" y2="668" stroke="#0d0d0d" stroke-width="3.51"/>
<path d="M1043.5 600V667M1050 600V667" fill="none" stroke="#0d0d0d" stroke-width="1.12" stroke-linejoin="round" stroke-dasharray="14 3"/>
<path d="M1138 636.24V662.03M1142.77 634.33V664.58M1147.54 632.43V666.49M1152.31 633.71V665.68M1157.08 636.14V666.19M1161.85 632.12V662.25M1166.62 634.64V666.27M1171.38 634.72V666.86M1176.15 634.64V662.11M1180.92 636.32V663.52M1185.69 633.31V665.17M1190.46 632.84V663.14M1195.23 634.66V663.1M1200 633.65V665.88" fill="none" stroke="#0d0d0d" stroke-width="1.12" stroke-linejoin="round"/>
<path d="M1203 603.25V663.06M1206.8 603.41V663.78M1210.6 603.27V664.04M1214.4 600.91V664.93M1218.2 601.42V666.88M1222 600.11V665.88" fill="none" stroke="#0d0d0d" stroke-width="1.19" stroke-linejoin="round"/>
<path d="M1224 560V667M1226.5 560V667M1229 560V667M1231.5 560V667M1234 560V667M1236.5 560V667M1239 560V667" fill="none" stroke="#0d0d0d" stroke-width="1.31" stroke-linejoin="round"/>
<path d="M1231 530V667M1234.5 530V667M1237.5 530V667" fill="none" stroke="#0d0d0d" stroke-width="1.12" stroke-linejoin="round"/>
<path d="M1020.1 522V594A111.35 67 0 0 0 1242.8 594V522Z" fill="#fff" stroke="#0d0d0d" stroke-width="2.81" stroke-linejoin="round"/>
<path d="M1241.13 530V594A109.68 65.77 0 0 1 1036.46 626.88M1239.06 531.2V594A107.61 64.24 0 0 1 1044.77 632.06M1236.2 532.4V594A104.75 62.14 0 0 1 1054.43 636.11M1232.94 533.6V594A101.49 59.74 0 0 1 1064.87 639.08M1229.39 534.8V594A97.94 57.13 0 0 1 1075.74 640.99M1225.62 536V594A94.17 54.35 0 0 1 1086.76 641.84M1221.65 537.2V594A90.2 51.42 0 0 1 1097.66 641.68M1217.51 538.4V594A86.06 48.37 0 0 1 1108.21 640.58M1213.22 539.6V594A81.77 45.21 0 0 1 1118.19 638.62M1208.79 540.8V594A77.34 41.95 0 0 1 1127.4 635.9M1204.24 542V594A72.79 38.6 0 0 1 1135.68 632.54M1199.57 543.2V594A68.12 35.16 0 0 1 1142.89 628.66M1194.79 544.4V594A63.34 31.65 0 0 1 1148.91 624.42M1189.92 545.6V594A58.47 28.06 0 0 1 1153.67 619.95M1184.95 546.8V594A53.5 24.4 0 0 1 1157.11 615.41M1179.89 548V594A48.44 20.67 0 0 1 1159.23 610.93" fill="none" stroke="#0d0d0d" stroke-width="1" stroke-linejoin="round" clip-path="url(#c37)"/>
<path d="M1022.88 535V594A108.57 65.33 0 0 0 1048.28 635.99M1025.67 535V594A105.78 63.65 0 0 0 1041.74 627.73M1028.45 535V594A103 61.98 0 0 0 1037.36 619.21" fill="none" stroke="#0d0d0d" stroke-width="1.12" stroke-linejoin="round" clip-path="url(#c37)"/>
<path d="M1046.7 535V594Q1047 622 1075 638" fill="none" stroke="#0d0d0d" stroke-width="1.38" stroke-linejoin="round" stroke-dasharray="12 3"/>
<path d="M1179.3 535V600Q1176 628 1150 640" fill="none" stroke="#0d0d0d" stroke-width="1.38" stroke-linejoin="round" stroke-dasharray="12 3"/>
<path d="M1023.1 523V562M1026.99 523V562M1030.88 523V562M1034.76 523V562M1038.65 523V562M1042.54 523V562M1046.42 523V562M1050.31 523V562M1054.2 523V562M1058.09 523V562M1061.97 523V562M1065.86 523V562M1069.75 523V562M1073.64 523V562M1077.53 523V562M1081.41 523V562M1085.3 523V562M1089.19 523V562M1093.08 523V562M1096.96 523V562M1100.85 523V562M1104.74 523V562M1108.62 523V562M1112.51 523V562M1116.4 523V562M1120.29 523V562M1124.17 523V562M1128.06 523V562M1131.95 523V562M1135.84 523V562M1139.72 523V562M1143.61 523V562M1147.5 523V562M1151.39 523V562M1155.28 523V562M1159.16 523V562M1163.05 523V562M1166.94 523V562M1170.83 523V562M1174.71 523V562M1178.6 523V562M1182.49 523V562M1186.38 523V562M1190.26 523V562M1194.15 523V562M1198.04 523V562M1201.92 523V562M1205.81 523V562M1209.7 523V562M1213.59 523V562M1217.47 523V562M1221.36 523V562M1225.25 523V562M1229.14 523V562M1233.02 523V562M1236.91 523V562M1240.8 523V562" fill="none" stroke="#0d0d0d" stroke-width="1.25" stroke-linejoin="round" clip-path="url(#c38)"/>
<path d="M1242.8 594A111.35 67 0 0 1 1131.45 661" fill="none" stroke="#0d0d0d" stroke-width="3.28" stroke-linejoin="round"/>
<path d="M1020.1 590V594A111.35 67 0 0 0 1131.45 661" fill="none" stroke="#0d0d0d" stroke-width="3.74" stroke-linejoin="round"/>
<rect x="1020.1" y="229.8" width="222.7" height="260.2" fill="#fff" stroke="#0d0d0d" stroke-width="2.57"/>
<line x1="1242.2" y1="229.8" x2="1242.2" y2="490" stroke="#0d0d0d" stroke-width="3.98"/>
<path d="M1024.7 240V489M1028.1 240V489M1031.5 240V489" fill="none" stroke="#0d0d0d" stroke-width="0.88" stroke-linejoin="round" stroke-dasharray="30 2"/>
<path d="M1035.2 240V489" fill="none" stroke="#0d0d0d" stroke-width="0.94" stroke-linejoin="round" stroke-dasharray="14 3"/>
<path d="M1046.7 244V489M1179.3 244V489" fill="none" stroke="#0d0d0d" stroke-width="1.12" stroke-linejoin="round" stroke-dasharray="11 3"/>
<rect x="1199" y="240" width="42" height="250" fill="#000" opacity="0.13"/>
<rect x="1218" y="240" width="23" height="250" fill="#000" opacity="0.10"/>
<path d="M1184.5 250V489M1190.5 250V489M1196 250V489" fill="none" stroke="#0d0d0d" stroke-width="1.2" stroke-dasharray="22 3"/>
<path d="M1201.5 242V489M1207 242V489M1212 242V489M1217 242V489M1221.6 242V489M1226 242V489M1230.6 242V489M1235.6 242V489" fill="none" stroke="#0d0d0d" stroke-width="1.7"/>
<path d="M1238.6 236V489" fill="none" stroke="#0d0d0d" stroke-width="1.3"/>
<path d="M1023.1 230V262M1026.99 230V262M1030.88 230V262M1034.76 230V262M1038.65 230V262M1042.54 230V262M1046.42 230V262M1050.31 230V262M1054.2 230V262M1058.09 230V262M1061.97 230V262M1065.86 230V262M1069.75 230V262M1073.64 230V262M1077.53 230V262M1081.41 230V262M1085.3 230V262M1089.19 230V262M1093.08 230V262M1096.96 230V262M1100.85 230V262M1104.74 230V262M1108.62 230V262M1112.51 230V262M1116.4 230V262M1120.29 230V262M1124.17 230V262M1128.06 230V262M1131.95 230V262M1135.84 230V262M1139.72 230V262M1143.61 230V262M1147.5 230V262M1151.39 230V262M1155.28 230V262M1159.16 230V262M1163.05 230V262M1166.94 230V262M1170.83 230V262M1174.71 230V262M1178.6 230V262M1182.49 230V262M1186.38 230V262M1190.26 230V262M1194.15 230V262M1198.04 230V262M1201.92 230V262M1205.81 230V262M1209.7 230V262M1213.59 230V262M1217.47 230V262M1221.36 230V262M1225.25 230V262M1229.14 230V262M1233.02 230V262M1236.91 230V262M1240.8 230V262" fill="none" stroke="#0d0d0d" stroke-width="1.25" stroke-linejoin="round" clip-path="url(#c39)"/>
<path d="M1041.43 237.8L1046.7 243.3L1052.2 243.3L1057.47 237.8Z" fill="#fff" stroke="#0d0d0d" stroke-width="1.87" stroke-linejoin="round"/>
<rect x="1038" y="229.8" width="22.9" height="9" fill="#fff" stroke="#0d0d0d" stroke-width="2.34"/>
<line x1="1052.2" y1="229.8" x2="1052.2" y2="238.8" stroke="#0d0d0d" stroke-width="1.62"/>
<path d="M1053.8 230.3V237.8M1056.75 230.3V237.8M1059.7 230.3V237.8" fill="none" stroke="#0d0d0d" stroke-width="1.12" stroke-linejoin="round"/>
<path d="M1120.97 237.8L1125.98 243.3L1131.22 243.3L1136.23 237.8Z" fill="#fff" stroke="#0d0d0d" stroke-width="1.87" stroke-linejoin="round"/>
<rect x="1117.7" y="229.8" width="21.8" height="9" fill="#fff" stroke="#0d0d0d" stroke-width="2.34"/>
<line x1="1131.22" y1="229.8" x2="1131.22" y2="238.8" stroke="#0d0d0d" stroke-width="1.62"/>
<path d="M1132.82 230.3V237.8M1135.56 230.3V237.8M1138.3 230.3V237.8" fill="none" stroke="#0d0d0d" stroke-width="1.12" stroke-linejoin="round"/>
<path d="M1199.79 237.8L1204.99 243.3L1210.41 243.3L1215.61 237.8Z" fill="#fff" stroke="#0d0d0d" stroke-width="1.87" stroke-linejoin="round"/>
<rect x="1196.4" y="229.8" width="22.6" height="9" fill="#fff" stroke="#0d0d0d" stroke-width="2.34"/>
<line x1="1210.41" y1="229.8" x2="1210.41" y2="238.8" stroke="#0d0d0d" stroke-width="1.62"/>
<path d="M1212.01 230.3V237.8M1214.91 230.3V237.8M1217.8 230.3V237.8" fill="none" stroke="#0d0d0d" stroke-width="1.12" stroke-linejoin="round"/>
<rect x="1002" y="230" width="16" height="8.5" fill="#fff" stroke="#0d0d0d" stroke-width="2.34"/>
<path d="M1007 231V238M1011 231V238M1015 231V238" fill="none" stroke="#0d0d0d" stroke-width="1.12" stroke-linejoin="round"/>
<rect x="999.8" y="198.3" width="259.6" height="14.5" fill="#fff" stroke="#0d0d0d" stroke-width="2.81"/>
<rect x="999.8" y="212.8" width="259.6" height="17" fill="#fff" stroke="#0d0d0d" stroke-width="2.81"/>
<line x1="999.8" y1="212.8" x2="1259.4" y2="212.8" stroke="#0d0d0d" stroke-width="3.98"/>
<line x1="1258.6" y1="198.3" x2="1258.6" y2="229.8" stroke="#0d0d0d" stroke-width="3.74"/>
<path d="M1002.8 200.32V209.41M1006.6 201.71V209.91M1010.4 201.67V208.82M1014.2 201.71V210.07M1018 200.24V210.35M1021.8 200.19V210.39" fill="none" stroke="#0d0d0d" stroke-width="1.25" stroke-linejoin="round"/>
<path d="M1046.7 200.8V209.8M1050.7 200.8V209.8" fill="none" stroke="#0d0d0d" stroke-width="1.12" stroke-linejoin="round" stroke-dasharray="5 2"/>
<path d="M1180 201.67V208.1M1185.75 202.32V209.36M1191.5 201.76V208.4M1197.25 200.05V208.82M1203 202.53V208.45" fill="none" stroke="#0d0d0d" stroke-width="1.12" stroke-linejoin="round" stroke-dasharray="6 1.5"/>
<path d="M1207 199.8V210.8M1211.12 199.8V210.8M1215.23 199.8V210.8M1219.35 199.8V210.8M1223.47 199.8V210.8M1227.58 199.8V210.8M1231.7 199.8V210.8M1235.82 199.8V210.8M1239.93 199.8V210.8M1244.05 199.8V210.8M1248.17 199.8V210.8M1252.28 199.8V210.8M1256.4 199.8V210.8" fill="none" stroke="#0d0d0d" stroke-width="1.31" stroke-linejoin="round"/>
<path d="M1002.8 216.3V227.34M1006.6 215.16V226.72M1010.4 215.47V226.7M1014.2 216.74V227.51M1018 215.6V226.41M1021.8 216.25V227.96" fill="none" stroke="#0d0d0d" stroke-width="1.25" stroke-linejoin="round"/>
<path d="M1046.7 215.8V227.3M1050.7 215.8V227.3" fill="none" stroke="#0d0d0d" stroke-width="1.12" stroke-linejoin="round" stroke-dasharray="5 2"/>
<path d="M1180 215.18V227.85M1185.75 217.51V225.88M1191.5 215.24V225.82M1197.25 217.74V226.33M1203 215.85V226.65" fill="none" stroke="#0d0d0d" stroke-width="1.12" stroke-linejoin="round" stroke-dasharray="6 1.5"/>
<path d="M1207 214.8V228.3M1211.12 214.8V228.3M1215.23 214.8V228.3M1219.35 214.8V228.3M1223.47 214.8V228.3M1227.58 214.8V228.3M1231.7 214.8V228.3M1235.82 214.8V228.3M1239.93 214.8V228.3M1244.05 214.8V228.3M1248.17 214.8V228.3M1252.28 214.8V228.3M1256.4 214.8V228.3" fill="none" stroke="#0d0d0d" stroke-width="1.31" stroke-linejoin="round"/>
<path d="M1032.1 198.3Q1038.1 190.3 1055.3 181.1Q1069.3 174.6 1082.6 171.1H1179.3Q1209.3 178.6 1225.3 198.3Z" fill="#fff" stroke="#0d0d0d" stroke-width="3.04" stroke-linejoin="round"/>
<path d="M1157.3 173.6Q1166.3 177.34 1167.3 184.3M1165.3 173.6Q1177.3 179.09 1181.3 189.3M1172.3 173.6Q1186.8 181.9 1193.3 197.3M1178.3 173.1Q1194.8 181.57 1203.3 197.3M1183.3 173.1Q1201.3 181.57 1211.3 197.3M1187.8 173.1Q1207.05 181.57 1218.3 197.3M1191.8 173.1Q1212.05 181.57 1224.3 197.3M1195.3 173.1Q1216.8 181.57 1230.3 197.3" fill="none" stroke="#0d0d0d" stroke-width="1.12" stroke-linejoin="round" clip-path="url(#c40)"/>
<path d="M1183.3 174.1Q1197.3 178.6 1209.3 189.6M1186.6 174.1Q1200.6 178.6 1212.6 189.6M1189.9 174.1Q1203.9 178.6 1215.9 189.6M1193.2 174.1Q1207.2 178.6 1219.2 189.6M1196.5 174.1Q1210.5 178.6 1222.5 189.6" fill="none" stroke="#0d0d0d" stroke-width="1" stroke-linejoin="round" clip-path="url(#c40)"/>
<path d="M1069.3 177.6L1061.3 182.1" fill="none" stroke="#0d0d0d" stroke-width="1" stroke-linejoin="round"/>
<rect x="1082.6" y="162.3" width="96.7" height="8.6" fill="#fff" stroke="#0d0d0d" stroke-width="2.34"/>
<path d="M1133.3 163.1V170.6M1136.76 163.1V170.6M1140.22 163.1V170.6M1143.68 163.1V170.6M1147.15 163.1V170.6M1150.61 163.1V170.6M1154.07 163.1V170.6M1157.53 163.1V170.6M1160.99 163.1V170.6M1164.45 163.1V170.6M1167.92 163.1V170.6M1171.38 163.1V170.6M1174.84 163.1V170.6M1178.3 163.1V170.6" fill="none" stroke="#0d0d0d" stroke-width="1.25" stroke-linejoin="round"/>
<path d="M1131.3 173.1H1175.3" fill="none" stroke="#0d0d0d" stroke-width="2.57" stroke-linejoin="round"/>
<rect x="1073.1" y="145.3" width="116.6" height="17" fill="#fff" stroke="#0d0d0d" stroke-width="3.04"/>
<path d="M1135.3 147.86V161.07M1139.97 149.54V159.8M1144.63 148.65V159.23M1149.3 148.47V159.36M1153.97 149.25V160.68M1158.63 148.1V160.51M1163.3 148.08V159.93" fill="none" stroke="#0d0d0d" stroke-width="1.25" stroke-linejoin="round"/>
<path d="M1164.3 146.6V161.6M1167.73 146.6V161.6M1171.16 146.6V161.6M1174.59 146.6V161.6M1178.01 146.6V161.6M1181.44 146.6V161.6M1184.87 146.6V161.6M1188.3 146.6V161.6" fill="none" stroke="#0d0d0d" stroke-width="1.5" stroke-linejoin="round"/>
<line x1="1188.1" y1="145.3" x2="1188.1" y2="162.3" stroke="#0d0d0d" stroke-width="3.74"/>
<rect x="1109.1" y="126.9" width="42.7" height="18.4" fill="#fff" stroke="#0d0d0d" stroke-width="2.81"/>
<path d="M1132.3 129.38V143.34M1135.9 128.99V141.87M1139.5 129.66V143.23M1143.1 130.35V141.89M1146.7 129.86V141.85M1150.3 130.1V143" fill="none" stroke="#0d0d0d" stroke-width="1.25" stroke-linejoin="round"/>
<line x1="1150.8" y1="126.9" x2="1150.8" y2="145.3" stroke="#0d0d0d" stroke-width="3.51"/>
<rect x="1114.3" y="120.3" width="31.8" height="6.6" fill="#fff" stroke="#0d0d0d" stroke-width="2.57"/>
<path d="M1137.3 121.1V126.6M1141.3 121.1V126.6M1145.3 121.1V126.6" fill="none" stroke="#0d0d0d" stroke-width="1.12" stroke-linejoin="round"/>
<rect x="1119.2" y="103.2" width="23.1" height="17.1" fill="#fff" stroke="#0d0d0d" stroke-width="2.57"/>
<path d="M1119.3 109.1H1142.3M1119.3 114.8H1142.3" fill="none" stroke="#0d0d0d" stroke-width="2.11" stroke-linejoin="round"/>
<path d="M1133.3 103.6V119.6M1137.3 103.6V119.6M1141.3 103.6V119.6" fill="none" stroke="#0d0d0d" stroke-width="1.12" stroke-linejoin="round"/>
<rect x="1115.8" y="93.7" width="29.9" height="9.5" fill="#fff" stroke="#0d0d0d" stroke-width="2.81" rx="1"/>
<path d="M1131.3 94.6V102.6M1135.63 94.6V102.6M1139.97 94.6V102.6M1144.3 94.6V102.6" fill="none" stroke="#0d0d0d" stroke-width="1.12" stroke-linejoin="round"/>
<line x1="1116.3" y1="97.6" x2="1131.3" y2="97.6" stroke="#0d0d0d" stroke-width="1"/>
<rect x="1085.3" y="131.6" width="11.7" height="5.2" fill="#fff" stroke="#0d0d0d" stroke-width="2.92" rx="1.8"/>
<rect x="1080.7" y="135.8" width="20.9" height="9.5" fill="#fff" stroke="#0d0d0d" stroke-width="2.92"/>
<line x1="1093.24" y1="135.8" x2="1093.24" y2="145.3" stroke="#0d0d0d" stroke-width="1.75"/>
<path d="M1095.64 136.8V144.8M1097.84 136.8V144.8" fill="none" stroke="#0d0d0d" stroke-width="1.5" stroke-linejoin="round"/>
<line x1="1100" y1="135.8" x2="1100" y2="145.3" stroke="#0d0d0d" stroke-width="3.04"/>
<path d="M1092.4 132.3V135.8M1094.49 132.3V135.8" fill="none" stroke="#0d0d0d" stroke-width="1.38" stroke-linejoin="round"/>
<rect x="1166.33" y="131.6" width="12.04" height="5.2" fill="#fff" stroke="#0d0d0d" stroke-width="2.92" rx="1.8"/>
<rect x="1161.6" y="135.8" width="21.5" height="9.5" fill="#fff" stroke="#0d0d0d" stroke-width="2.92"/>
<line x1="1174.5" y1="135.8" x2="1174.5" y2="145.3" stroke="#0d0d0d" stroke-width="1.75"/>
<path d="M1176.9 136.8V144.8M1179.1 136.8V144.8" fill="none" stroke="#0d0d0d" stroke-width="1.5" stroke-linejoin="round"/>
<line x1="1181.5" y1="135.8" x2="1181.5" y2="145.3" stroke="#0d0d0d" stroke-width="3.04"/>
<path d="M1173.64 132.3V135.8M1175.79 132.3V135.8" fill="none" stroke="#0d0d0d" stroke-width="1.38" stroke-linejoin="round"/>
<rect x="1012.49" y="183.9" width="12.71" height="5.9" fill="#fff" stroke="#0d0d0d" stroke-width="2.92" rx="1.8"/>
<rect x="1007.5" y="188.8" width="22.7" height="9.5" fill="#fff" stroke="#0d0d0d" stroke-width="2.92"/>
<line x1="1021.12" y1="188.8" x2="1021.12" y2="198.3" stroke="#0d0d0d" stroke-width="1.75"/>
<path d="M1023.52 189.8V197.8M1025.72 189.8V197.8" fill="none" stroke="#0d0d0d" stroke-width="1.5" stroke-linejoin="round"/>
<line x1="1028.6" y1="188.8" x2="1028.6" y2="198.3" stroke="#0d0d0d" stroke-width="3.04"/>
<path d="M1020.21 184.6V188.8M1022.48 184.6V188.8" fill="none" stroke="#0d0d0d" stroke-width="1.38" stroke-linejoin="round"/>
<rect x="1043.99" y="183.9" width="13.22" height="5.9" fill="#fff" stroke="#0d0d0d" stroke-width="2.92" rx="1.8"/>
<rect x="1038.8" y="188.8" width="23.6" height="9.5" fill="#fff" stroke="#0d0d0d" stroke-width="2.92"/>
<line x1="1052.96" y1="188.8" x2="1052.96" y2="198.3" stroke="#0d0d0d" stroke-width="1.75"/>
<path d="M1055.36 189.8V197.8M1057.56 189.8V197.8" fill="none" stroke="#0d0d0d" stroke-width="1.5" stroke-linejoin="round"/>
<line x1="1060.8" y1="188.8" x2="1060.8" y2="198.3" stroke="#0d0d0d" stroke-width="3.04"/>
<path d="M1052.02 184.6V188.8M1054.38 184.6V188.8" fill="none" stroke="#0d0d0d" stroke-width="1.38" stroke-linejoin="round"/>
<rect x="1122.81" y="183.9" width="13.78" height="5.9" fill="#fff" stroke="#0d0d0d" stroke-width="2.92" rx="1.8"/>
<rect x="1117.4" y="188.8" width="24.6" height="9.5" fill="#fff" stroke="#0d0d0d" stroke-width="2.92"/>
<line x1="1132.16" y1="188.8" x2="1132.16" y2="198.3" stroke="#0d0d0d" stroke-width="1.75"/>
<path d="M1134.56 189.8V197.8M1136.76 189.8V197.8" fill="none" stroke="#0d0d0d" stroke-width="1.5" stroke-linejoin="round"/>
<line x1="1140.4" y1="188.8" x2="1140.4" y2="198.3" stroke="#0d0d0d" stroke-width="3.04"/>
<path d="M1131.18 184.6V188.8M1133.64 184.6V188.8" fill="none" stroke="#0d0d0d" stroke-width="1.38" stroke-linejoin="round"/>
<rect x="1201.02" y="183.9" width="12.77" height="5.9" fill="#fff" stroke="#0d0d0d" stroke-width="2.92" rx="1.8"/>
<rect x="1196" y="188.8" width="22.8" height="9.5" fill="#fff" stroke="#0d0d0d" stroke-width="2.92"/>
<line x1="1209.68" y1="188.8" x2="1209.68" y2="198.3" stroke="#0d0d0d" stroke-width="1.75"/>
<path d="M1212.08 189.8V197.8M1214.28 189.8V197.8" fill="none" stroke="#0d0d0d" stroke-width="1.5" stroke-linejoin="round"/>
<line x1="1217.2" y1="188.8" x2="1217.2" y2="198.3" stroke="#0d0d0d" stroke-width="3.04"/>
<path d="M1208.77 184.6V188.8M1211.05 184.6V188.8" fill="none" stroke="#0d0d0d" stroke-width="1.38" stroke-linejoin="round"/>
<rect x="1233.51" y="183.9" width="13.27" height="5.9" fill="#fff" stroke="#0d0d0d" stroke-width="2.92" rx="1.8"/>
<rect x="1228.3" y="188.8" width="23.7" height="9.5" fill="#fff" stroke="#0d0d0d" stroke-width="2.92"/>
<line x1="1242.52" y1="188.8" x2="1242.52" y2="198.3" stroke="#0d0d0d" stroke-width="1.75"/>
<path d="M1244.92 189.8V197.8M1247.12 189.8V197.8" fill="none" stroke="#0d0d0d" stroke-width="1.5" stroke-linejoin="round"/>
<line x1="1250.4" y1="188.8" x2="1250.4" y2="198.3" stroke="#0d0d0d" stroke-width="3.04"/>
<path d="M1241.57 184.6V188.8M1243.94 184.6V188.8" fill="none" stroke="#0d0d0d" stroke-width="1.38" stroke-linejoin="round"/>
<path d="M1004.47 530.3L1009.48 535.8L1014.72 535.8L1019.73 530.3Z" fill="#fff" stroke="#0d0d0d" stroke-width="1.87" stroke-linejoin="round"/>
<rect x="1001.2" y="522" width="21.8" height="9.3" fill="#fff" stroke="#0d0d0d" stroke-width="2.34"/>
<line x1="1014.72" y1="522" x2="1014.72" y2="531.3" stroke="#0d0d0d" stroke-width="1.62"/>
<path d="M1016.32 522.5V530.3M1019.06 522.5V530.3M1021.8 522.5V530.3" fill="none" stroke="#0d0d0d" stroke-width="1.12" stroke-linejoin="round"/>
<path d="M1039.9 530.3L1045.59 535.8L1051.51 535.8L1057.2 530.3Z" fill="#fff" stroke="#0d0d0d" stroke-width="1.87" stroke-linejoin="round"/>
<rect x="1036.2" y="522" width="24.7" height="9.3" fill="#fff" stroke="#0d0d0d" stroke-width="2.34"/>
<line x1="1051.51" y1="522" x2="1051.51" y2="531.3" stroke="#0d0d0d" stroke-width="1.62"/>
<path d="M1053.11 522.5V530.3M1056.41 522.5V530.3M1059.7 522.5V530.3" fill="none" stroke="#0d0d0d" stroke-width="1.12" stroke-linejoin="round"/>
<path d="M1119.5 530.3L1125.19 535.8L1131.11 535.8L1136.8 530.3Z" fill="#fff" stroke="#0d0d0d" stroke-width="1.87" stroke-linejoin="round"/>
<rect x="1115.8" y="522" width="24.7" height="9.3" fill="#fff" stroke="#0d0d0d" stroke-width="2.34"/>
<line x1="1131.11" y1="522" x2="1131.11" y2="531.3" stroke="#0d0d0d" stroke-width="1.62"/>
<path d="M1132.71 522.5V530.3M1136.01 522.5V530.3M1139.3 522.5V530.3" fill="none" stroke="#0d0d0d" stroke-width="1.12" stroke-linejoin="round"/>
<path d="M1198.19 530.3L1203.85 535.8L1209.75 535.8L1215.41 530.3Z" fill="#fff" stroke="#0d0d0d" stroke-width="1.87" stroke-linejoin="round"/>
<rect x="1194.5" y="522" width="24.6" height="9.3" fill="#fff" stroke="#0d0d0d" stroke-width="2.34"/>
<line x1="1209.75" y1="522" x2="1209.75" y2="531.3" stroke="#0d0d0d" stroke-width="1.62"/>
<path d="M1211.35 522.5V530.3M1214.63 522.5V530.3M1217.9 522.5V530.3" fill="none" stroke="#0d0d0d" stroke-width="1.12" stroke-linejoin="round"/>
<path d="M1242.99 530.3L1247.56 535.8L1252.34 535.8L1256.91 530.3Z" fill="#fff" stroke="#0d0d0d" stroke-width="1.87" stroke-linejoin="round"/>
<rect x="1240" y="522" width="19.9" height="9.3" fill="#fff" stroke="#0d0d0d" stroke-width="2.34"/>
<line x1="1252.34" y1="522" x2="1252.34" y2="531.3" stroke="#0d0d0d" stroke-width="1.62"/>
<path d="M1253.94 522.5V530.3M1256.32 522.5V530.3M1258.7 522.5V530.3" fill="none" stroke="#0d0d0d" stroke-width="1.12" stroke-linejoin="round"/>
<rect x="996.4" y="489.8" width="266.3" height="16.2" fill="#fff" stroke="#0d0d0d" stroke-width="2.81"/>
<rect x="996.4" y="506" width="266.3" height="16" fill="#fff" stroke="#0d0d0d" stroke-width="2.81"/>
<line x1="996.4" y1="506" x2="1262.7" y2="506" stroke="#0d0d0d" stroke-width="3.98"/>
<line x1="1261.9" y1="489.8" x2="1261.9" y2="522" stroke="#0d0d0d" stroke-width="3.74"/>
<path d="M999.4 492.35V503.96M1003.2 492.18V503.63M1007 491.31V502.4M1010.8 491.64V503.05M1014.6 492.75V502.89M1018.4 491.95V502.96" fill="none" stroke="#0d0d0d" stroke-width="1.25" stroke-linejoin="round"/>
<path d="M1046.7 492.3V503M1050.7 492.3V503" fill="none" stroke="#0d0d0d" stroke-width="1.12" stroke-linejoin="round" stroke-dasharray="5 2"/>
<path d="M1180 492.97V501.65M1185.75 491.62V502.32M1191.5 492.05V503.17M1197.25 493.62V502.48M1203 492.99V501.72" fill="none" stroke="#0d0d0d" stroke-width="1.12" stroke-linejoin="round" stroke-dasharray="6 1.5"/>
<path d="M1207 491.3V504M1211.39 491.3V504M1215.78 491.3V504M1220.17 491.3V504M1224.57 491.3V504M1228.96 491.3V504M1233.35 491.3V504M1237.74 491.3V504M1242.13 491.3V504M1246.53 491.3V504M1250.92 491.3V504M1255.31 491.3V504M1259.7 491.3V504" fill="none" stroke="#0d0d0d" stroke-width="1.31" stroke-linejoin="round"/>
<path d="M999.4 509.82V519.61M1003.2 509.23V519.49M1007 509.02V519.11M1010.8 508.9V519.43M1014.6 508.96V518.62M1018.4 509.4V518.75" fill="none" stroke="#0d0d0d" stroke-width="1.25" stroke-linejoin="round"/>
<path d="M1046.7 509V519.5M1050.7 509V519.5" fill="none" stroke="#0d0d0d" stroke-width="1.12" stroke-linejoin="round" stroke-dasharray="5 2"/>
<path d="M1180 510.83V519.72M1185.75 509.68V517.67M1191.5 510.52V520.09M1197.25 508.36V519.17M1203 508.22V519.78" fill="none" stroke="#0d0d0d" stroke-width="1.12" stroke-linejoin="round" stroke-dasharray="6 1.5"/>
<path d="M1207 508V520.5M1211.39 508V520.5M1215.78 508V520.5M1220.17 508V520.5M1224.57 508V520.5M1228.96 508V520.5M1233.35 508V520.5M1237.74 508V520.5M1242.13 508V520.5M1246.53 508V520.5M1250.92 508V520.5M1255.31 508V520.5M1259.7 508V520.5" fill="none" stroke="#0d0d0d" stroke-width="1.31" stroke-linejoin="round"/>
<rect x="1006" y="476.3" width="12.21" height="5.9" fill="#fff" stroke="#0d0d0d" stroke-width="2.92" rx="1.8"/>
<rect x="1001.2" y="481.2" width="21.8" height="8.6" fill="#fff" stroke="#0d0d0d" stroke-width="2.92"/>
<line x1="1014.28" y1="481.2" x2="1014.28" y2="489.8" stroke="#0d0d0d" stroke-width="1.75"/>
<path d="M1016.68 482.2V489.3M1018.88 482.2V489.3" fill="none" stroke="#0d0d0d" stroke-width="1.5" stroke-linejoin="round"/>
<line x1="1021.4" y1="481.2" x2="1021.4" y2="489.8" stroke="#0d0d0d" stroke-width="3.04"/>
<path d="M1013.41 477V481.2M1015.59 477V481.2" fill="none" stroke="#0d0d0d" stroke-width="1.38" stroke-linejoin="round"/>
<rect x="1041.63" y="476.3" width="13.83" height="5.9" fill="#fff" stroke="#0d0d0d" stroke-width="2.92" rx="1.8"/>
<rect x="1036.2" y="481.2" width="24.7" height="8.6" fill="#fff" stroke="#0d0d0d" stroke-width="2.92"/>
<line x1="1051.02" y1="481.2" x2="1051.02" y2="489.8" stroke="#0d0d0d" stroke-width="1.75"/>
<path d="M1053.42 482.2V489.3M1055.62 482.2V489.3" fill="none" stroke="#0d0d0d" stroke-width="1.5" stroke-linejoin="round"/>
<line x1="1059.3" y1="481.2" x2="1059.3" y2="489.8" stroke="#0d0d0d" stroke-width="3.04"/>
<path d="M1050.03 477V481.2M1052.5 477V481.2" fill="none" stroke="#0d0d0d" stroke-width="1.38" stroke-linejoin="round"/>
<rect x="1121.23" y="476.3" width="13.83" height="5.9" fill="#fff" stroke="#0d0d0d" stroke-width="2.92" rx="1.8"/>
<rect x="1115.8" y="481.2" width="24.7" height="8.6" fill="#fff" stroke="#0d0d0d" stroke-width="2.92"/>
<line x1="1130.62" y1="481.2" x2="1130.62" y2="489.8" stroke="#0d0d0d" stroke-width="1.75"/>
<path d="M1133.02 482.2V489.3M1135.22 482.2V489.3" fill="none" stroke="#0d0d0d" stroke-width="1.5" stroke-linejoin="round"/>
<line x1="1138.9" y1="481.2" x2="1138.9" y2="489.8" stroke="#0d0d0d" stroke-width="3.04"/>
<path d="M1129.63 477V481.2M1132.1 477V481.2" fill="none" stroke="#0d0d0d" stroke-width="1.38" stroke-linejoin="round"/>
<rect x="1199.91" y="476.3" width="13.78" height="5.9" fill="#fff" stroke="#0d0d0d" stroke-width="2.92" rx="1.8"/>
<rect x="1194.5" y="481.2" width="24.6" height="8.6" fill="#fff" stroke="#0d0d0d" stroke-width="2.92"/>
<line x1="1209.26" y1="481.2" x2="1209.26" y2="489.8" stroke="#0d0d0d" stroke-width="1.75"/>
<path d="M1211.66 482.2V489.3M1213.86 482.2V489.3" fill="none" stroke="#0d0d0d" stroke-width="1.5" stroke-linejoin="round"/>
<line x1="1217.5" y1="481.2" x2="1217.5" y2="489.8" stroke="#0d0d0d" stroke-width="3.04"/>
<path d="M1208.28 477V481.2M1210.74 477V481.2" fill="none" stroke="#0d0d0d" stroke-width="1.38" stroke-linejoin="round"/>
<rect x="1244.38" y="476.3" width="11.14" height="5.9" fill="#fff" stroke="#0d0d0d" stroke-width="2.92" rx="1.8"/>
<rect x="1240" y="481.2" width="19.9" height="8.6" fill="#fff" stroke="#0d0d0d" stroke-width="2.92"/>
<line x1="1251.94" y1="481.2" x2="1251.94" y2="489.8" stroke="#0d0d0d" stroke-width="1.75"/>
<path d="M1254.34 482.2V489.3M1256.54 482.2V489.3" fill="none" stroke="#0d0d0d" stroke-width="1.5" stroke-linejoin="round"/>
<line x1="1258.3" y1="481.2" x2="1258.3" y2="489.8" stroke="#0d0d0d" stroke-width="3.04"/>
<path d="M1251.14 477V481.2M1253.13 477V481.2" fill="none" stroke="#0d0d0d" stroke-width="1.38" stroke-linejoin="round"/>
<rect x="994.5" y="668" width="268.5" height="21.8" fill="#fff" stroke="#0d0d0d" stroke-width="3.04"/>
<path d="M999.5 671V688.5M1003.5 671V688.5" fill="none" stroke="#0d0d0d" stroke-width="1.25" stroke-linejoin="round" stroke-dasharray="9 2"/>
<path d="M1232 670.22V686.99M1236.67 672.35V686.31M1241.33 670.46V686.85M1246 671.98V688.57" fill="none" stroke="#0d0d0d" stroke-width="1.25" stroke-linejoin="round"/>
<path d="M1248 669V689.5M1251.25 669V689.5M1254.5 669V689.5M1257.75 669V689.5M1261 669V689.5" fill="none" stroke="#0d0d0d" stroke-width="1.5" stroke-linejoin="round"/>
<line x1="1261.6" y1="668" x2="1261.6" y2="689.8" stroke="#0d0d0d" stroke-width="4.21"/>
<line x1="1128.7" y1="160" x2="1128.7" y2="696" stroke="#0d0d0d" stroke-width="1.99" stroke-dasharray="19 4"/>
<path d="M1020.1 238.9H985Q972.7 238.9 972.7 251V440Q972.7 456.7 990 456.7H1020.1Z" fill="#fff" stroke="#0d0d0d" stroke-width="2.81" stroke-linejoin="round"/>
<path d="M984 240Q983.2 243 983.2 250V438Q983.2 447.6 994 447.6H1019.1" fill="none" stroke="#0d0d0d" stroke-width="2.34" stroke-linejoin="round"/>
<path d="M972.7 425V440Q972.7 456.7 990 456.7H1020.1" fill="none" stroke="#0d0d0d" stroke-width="3.98" stroke-linejoin="round"/>
<path d="M995 457Q996 467.5 1004 467.5H1018.6V457" fill="#fff" stroke="#0d0d0d" stroke-width="2.57" stroke-linejoin="round"/>
<path d="M1003 461H1017M1003 463.5H1017" fill="none" stroke="#0d0d0d" stroke-width="1.12" stroke-linejoin="round"/>
<path d="M986 451H1017M986 453.3H1017" fill="none" stroke="#0d0d0d" stroke-width="1.25" stroke-linejoin="round" stroke-dasharray="4 1.5"/>
<path d="M975.5 432V448M978 432V448" fill="none" stroke="#0d0d0d" stroke-width="1.12" stroke-linejoin="round"/>
<line x1="1020.1" y1="238.9" x2="1020.1" y2="467" stroke="#0d0d0d" stroke-width="2.81"/>
<path d="M1006.6 282.9Q1009.6 286.4 1010.6 288.9Q1009.6 291.4 1006.6 294.9Z" fill="#0d0d0d" stroke="#0d0d0d" stroke-width="1.62" stroke-linejoin="round"/>
<line x1="1011" y1="289.2" x2="1037" y2="289.2" stroke="#0d0d0d" stroke-width="1.5"/>
<path d="M1006.6 400.4Q1009.6 403.9 1010.6 406.4Q1009.6 408.9 1006.6 412.4Z" fill="#0d0d0d" stroke="#0d0d0d" stroke-width="1.62" stroke-linejoin="round"/>
<line x1="1011" y1="406.7" x2="1037" y2="406.7" stroke="#0d0d0d" stroke-width="1.5"/>
<rect x="1240.8" y="542.4" width="21.2" height="46.5" fill="#fff" stroke="#0d0d0d" stroke-width="2.81"/>
<path d="M1244 551.06V567.26M1248 545.76V567.38M1252 547.19V571.1M1256 551.92V568.34M1260 545.29V571.55" fill="none" stroke="#0d0d0d" stroke-width="1.12" stroke-linejoin="round"/>
<path d="M1243 574H1261M1243 576.8H1261M1243 579.6H1261M1243 582.4H1261M1243 585.2H1261M1243 588H1261" fill="none" stroke="#0d0d0d" stroke-width="1.25" stroke-linejoin="round"/>
<rect x="1286.2" y="558.9" width="14.4" height="17.7" fill="#fff" stroke="#0d0d0d" stroke-width="2.81"/>
<path d="M1292 560V576M1295 560V576" fill="none" stroke="#0d0d0d" stroke-width="1.12" stroke-linejoin="round"/>
<path d="M1287 570H1300M1287 572.5H1300M1287 574.7H1300" fill="none" stroke="#0d0d0d" stroke-width="1.12" stroke-linejoin="round"/>
<rect x="1273.5" y="550.5" width="12.7" height="34.2" fill="#fff" stroke="#0d0d0d" stroke-width="2.81"/>
<path d="M1277.3 551.5V584M1280.3 551.5V584M1283.2 551.5V584" fill="none" stroke="#0d0d0d" stroke-width="1.25" stroke-linejoin="round"/>
<path d="M1274 574H1286M1274 576.5H1286M1274 579H1286M1274 581.5H1286M1274 584H1286" fill="none" stroke="#0d0d0d" stroke-width="1.12" stroke-linejoin="round"/>
<rect x="1261.9" y="531.5" width="11.6" height="74.3" fill="#fff" stroke="#0d0d0d" stroke-width="3.04"/>
<path d="M1266 533V556M1269.5 533V556" fill="none" stroke="#0d0d0d" stroke-width="1.12" stroke-linejoin="round"/>
<path d="M1263 590H1273M1263 592.5H1273M1263 595H1273M1263 597.5H1273M1263 600H1273M1263 602.5H1273M1263 605H1273" fill="none" stroke="#0d0d0d" stroke-width="1.25" stroke-linejoin="round"/>
<path d="M1266 588V605M1269.5 588V605" fill="none" stroke="#0d0d0d" stroke-width="1.12" stroke-linejoin="round"/>
</svg></body></html>
